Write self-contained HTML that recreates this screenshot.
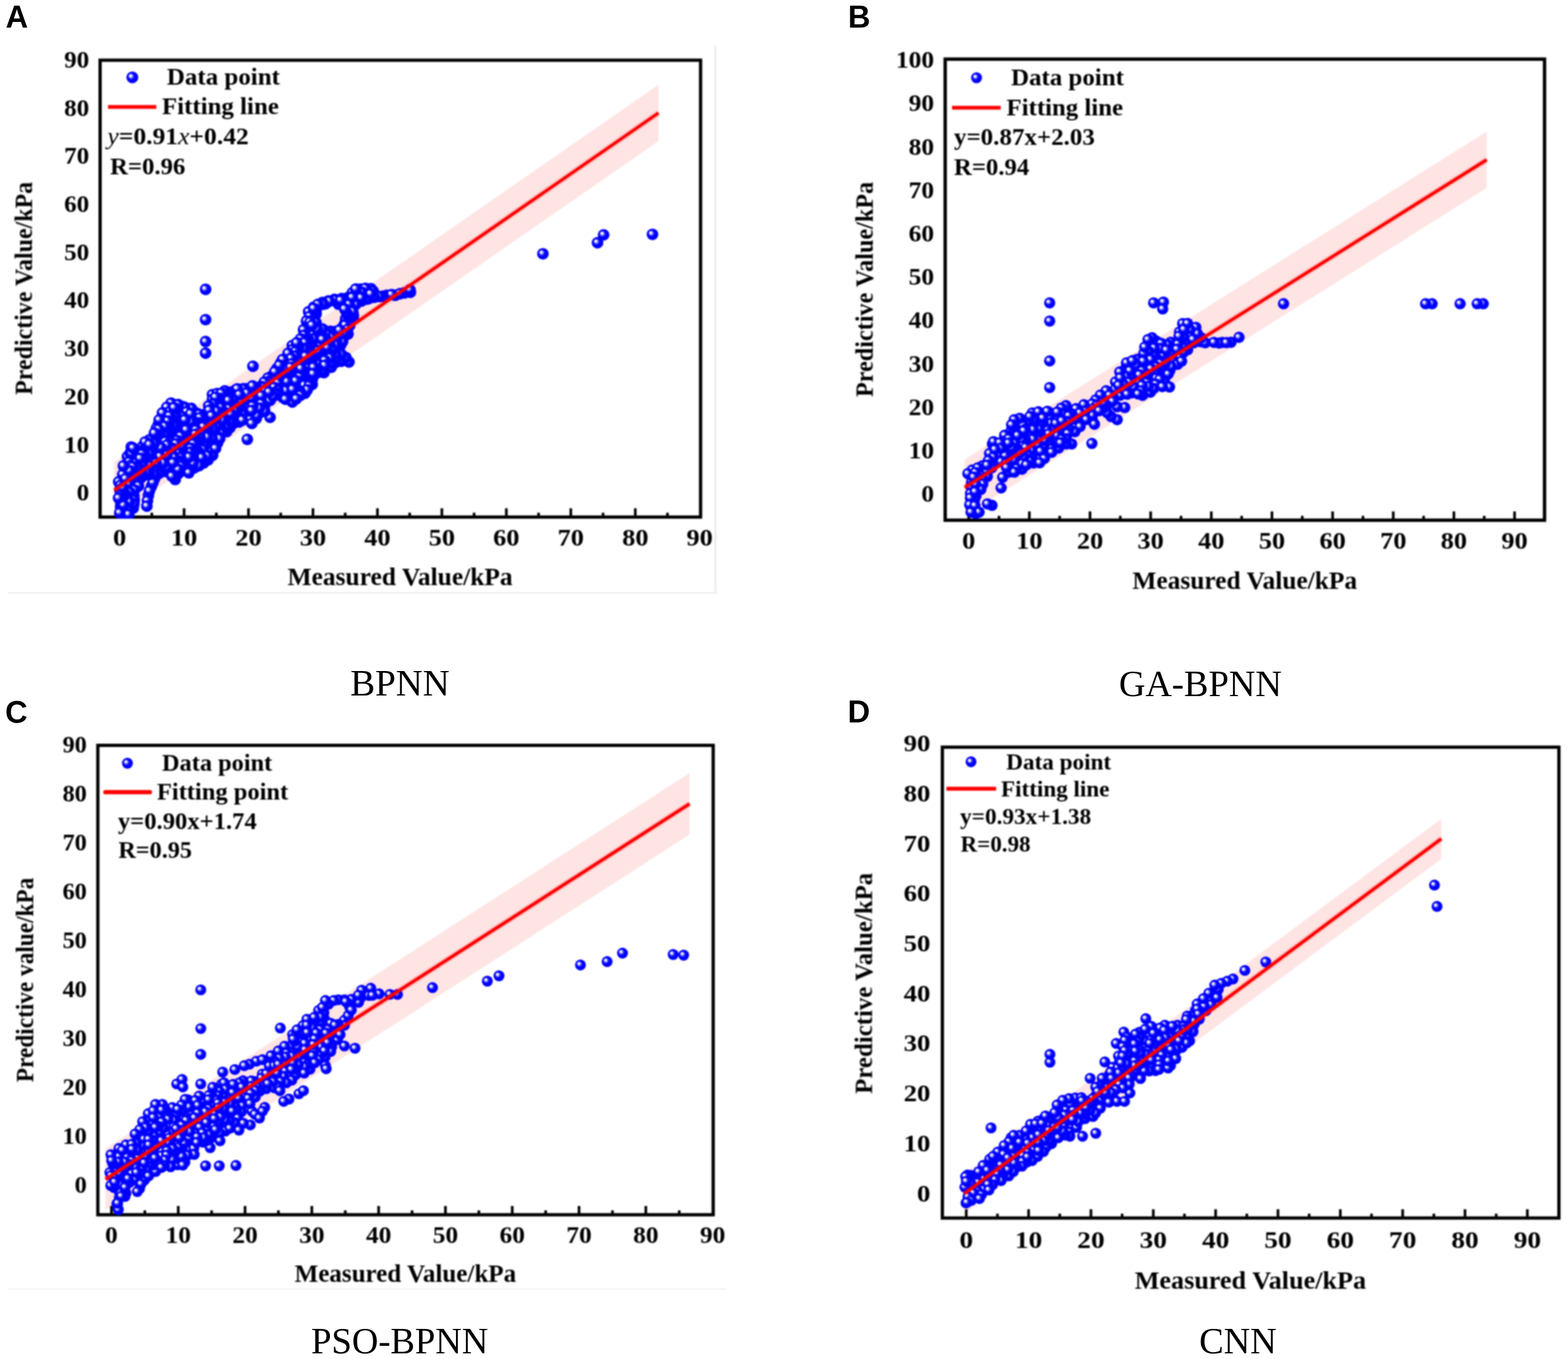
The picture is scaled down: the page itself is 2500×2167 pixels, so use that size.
<!DOCTYPE html>
<html lang="en"><head><meta charset="utf-8"><title>Measured vs predictive value: BPNN, GA-BPNN, PSO-BPNN, CNN</title>
<style>
html,body{margin:0;padding:0;background:#fff;}
body{width:2500px;height:2167px;overflow:hidden;}
svg{display:block;}
</style></head><body>
<svg width="2500" height="2167" viewBox="0 0 2500 2167">
<defs>
<radialGradient id="pt" cx="0.5" cy="0.5" r="0.5" fx="0.31" fy="0.33">
<stop offset="0" stop-color="#ffffff"/><stop offset="0.18" stop-color="#f2f2ff"/><stop offset="0.42" stop-color="#3a3aff"/><stop offset="0.55" stop-color="#0000ff"/><stop offset="1" stop-color="#0000ff"/>
</radialGradient>
<circle id="p" r="9" fill="url(#pt)"/>
<filter id="soft" x="-2%" y="-2%" width="104%" height="104%" color-interpolation-filters="sRGB"><feGaussianBlur stdDeviation="1.0"/></filter>
</defs>
<rect width="2500" height="2167" fill="#fff"/>
<g id="panel-A"><line x1="13" y1="945.3" x2="1142.8" y2="945.3" stroke="#f1f1f1" stroke-width="3"/><line x1="1140.8" y1="73" x2="1140.8" y2="946.8" stroke="#f0f0f0" stroke-width="4"/><clipPath id="clipA"><rect x="157.0" y="93.4" width="962.6" height="733.7"/></clipPath><g filter="url(#soft)"><g clip-path="url(#clipA)"><polygon points="182,737 1050,135 1050,225 182,827" fill="#ffe4e4"/></g><rect x="159.6" y="96" width="957.4" height="728.5" fill="none" stroke="#000" stroke-width="5.2"/><path d="M190.7 824.5V810.5M293.5 824.5V810.5M396.2 824.5V810.5M499.0 824.5V810.5M601.8 824.5V810.5M704.5 824.5V810.5M807.3 824.5V810.5M910.1 824.5V810.5M1012.9 824.5V810.5M242.1 824.5V817.5M344.9 824.5V817.5M447.6 824.5V817.5M550.4 824.5V817.5M653.2 824.5V817.5M755.9 824.5V817.5M858.7 824.5V817.5M961.5 824.5V817.5M1064.2 824.5V817.5" stroke="#000" stroke-width="4.2" fill="none"/><g clip-path="url(#clipA)"><circle cx="1040.3" cy="373.7" r="9.3" fill="url(#pt)"/><circle cx="962.4" cy="374.5" r="9.3" fill="url(#pt)"/><circle cx="952.7" cy="387.0" r="9.3" fill="url(#pt)"/><circle cx="865.6" cy="404.7" r="9.3" fill="url(#pt)"/><circle cx="654.4" cy="466.0" r="9.3" fill="url(#pt)"/><circle cx="645.1" cy="466.9" r="9.3" fill="url(#pt)"/><circle cx="653.6" cy="462.1" r="9.3" fill="url(#pt)"/><circle cx="630.1" cy="470.8" r="9.3" fill="url(#pt)"/><circle cx="637.7" cy="468.4" r="9.3" fill="url(#pt)"/><circle cx="616.7" cy="470.7" r="9.3" fill="url(#pt)"/><circle cx="591.4" cy="460.2" r="9.3" fill="url(#pt)"/><circle cx="624.4" cy="469.8" r="9.3" fill="url(#pt)"/><circle cx="610.4" cy="472.4" r="9.3" fill="url(#pt)"/><circle cx="595.0" cy="464.4" r="9.3" fill="url(#pt)"/><circle cx="588.3" cy="475.9" r="9.3" fill="url(#pt)"/><circle cx="584.6" cy="476.9" r="9.3" fill="url(#pt)"/><circle cx="583.7" cy="467.4" r="9.3" fill="url(#pt)"/><circle cx="604.9" cy="472.8" r="9.3" fill="url(#pt)"/><circle cx="574.6" cy="461.0" r="9.3" fill="url(#pt)"/><circle cx="596.5" cy="473.9" r="9.3" fill="url(#pt)"/><circle cx="582.6" cy="459.8" r="9.3" fill="url(#pt)"/><circle cx="576.3" cy="465.7" r="9.3" fill="url(#pt)"/><circle cx="561.7" cy="466.9" r="9.3" fill="url(#pt)"/><circle cx="591.0" cy="468.5" r="9.3" fill="url(#pt)"/><circle cx="568.4" cy="468.5" r="9.3" fill="url(#pt)"/><circle cx="554.6" cy="474.5" r="9.3" fill="url(#pt)"/><circle cx="567.3" cy="460.8" r="9.3" fill="url(#pt)"/><circle cx="569.0" cy="476.2" r="9.3" fill="url(#pt)"/><circle cx="576.5" cy="479.9" r="9.3" fill="url(#pt)"/><circle cx="561.4" cy="487.1" r="9.3" fill="url(#pt)"/><circle cx="559.3" cy="473.7" r="9.3" fill="url(#pt)"/><circle cx="560.6" cy="482.8" r="9.3" fill="url(#pt)"/><circle cx="555.8" cy="481.6" r="9.3" fill="url(#pt)"/><circle cx="550.2" cy="477.8" r="9.3" fill="url(#pt)"/><circle cx="567.3" cy="485.2" r="9.3" fill="url(#pt)"/><circle cx="575.8" cy="474.9" r="9.3" fill="url(#pt)"/><circle cx="552.7" cy="498.0" r="9.3" fill="url(#pt)"/><circle cx="563.3" cy="509.1" r="9.3" fill="url(#pt)"/><circle cx="533.4" cy="477.3" r="9.3" fill="url(#pt)"/><circle cx="547.3" cy="483.1" r="9.3" fill="url(#pt)"/><circle cx="561.6" cy="474.1" r="9.3" fill="url(#pt)"/><circle cx="544.8" cy="476.1" r="9.3" fill="url(#pt)"/><circle cx="563.5" cy="502.9" r="9.3" fill="url(#pt)"/><circle cx="549.1" cy="516.8" r="9.3" fill="url(#pt)"/><circle cx="539.4" cy="484.8" r="9.3" fill="url(#pt)"/><circle cx="554.9" cy="532.6" r="9.3" fill="url(#pt)"/><circle cx="557.5" cy="487.9" r="9.3" fill="url(#pt)"/><circle cx="556.4" cy="485.3" r="9.3" fill="url(#pt)"/><circle cx="562.5" cy="496.8" r="9.3" fill="url(#pt)"/><circle cx="554.7" cy="511.2" r="9.3" fill="url(#pt)"/><circle cx="534.2" cy="478.4" r="9.3" fill="url(#pt)"/><circle cx="551.1" cy="508.3" r="9.3" fill="url(#pt)"/><circle cx="554.2" cy="502.6" r="9.3" fill="url(#pt)"/><circle cx="545.5" cy="522.8" r="9.3" fill="url(#pt)"/><circle cx="552.8" cy="499.1" r="9.3" fill="url(#pt)"/><circle cx="543.3" cy="478.9" r="9.3" fill="url(#pt)"/><circle cx="549.5" cy="492.6" r="9.3" fill="url(#pt)"/><circle cx="537.0" cy="528.1" r="9.3" fill="url(#pt)"/><circle cx="546.9" cy="538.9" r="9.3" fill="url(#pt)"/><circle cx="519.3" cy="484.1" r="9.3" fill="url(#pt)"/><circle cx="523.7" cy="479.7" r="9.3" fill="url(#pt)"/><circle cx="532.5" cy="529.7" r="9.3" fill="url(#pt)"/><circle cx="549.1" cy="525.1" r="9.3" fill="url(#pt)"/><circle cx="543.2" cy="549.9" r="9.3" fill="url(#pt)"/><circle cx="529.8" cy="528.9" r="9.3" fill="url(#pt)"/><circle cx="525.2" cy="480.4" r="9.3" fill="url(#pt)"/><circle cx="557.6" cy="518.9" r="9.3" fill="url(#pt)"/><circle cx="514.1" cy="482.4" r="9.3" fill="url(#pt)"/><circle cx="504.0" cy="495.1" r="9.3" fill="url(#pt)"/><circle cx="541.8" cy="543.5" r="9.3" fill="url(#pt)"/><circle cx="504.1" cy="500.7" r="9.3" fill="url(#pt)"/><circle cx="550.3" cy="518.6" r="9.3" fill="url(#pt)"/><circle cx="556.4" cy="577.2" r="9.3" fill="url(#pt)"/><circle cx="500.7" cy="500.1" r="9.3" fill="url(#pt)"/><circle cx="546.2" cy="544.7" r="9.3" fill="url(#pt)"/><circle cx="526.4" cy="528.3" r="9.3" fill="url(#pt)"/><circle cx="554.2" cy="525.5" r="9.3" fill="url(#pt)"/><circle cx="507.0" cy="486.1" r="9.3" fill="url(#pt)"/><circle cx="515.1" cy="485.2" r="9.3" fill="url(#pt)"/><circle cx="519.6" cy="529.3" r="9.3" fill="url(#pt)"/><circle cx="526.2" cy="545.1" r="9.3" fill="url(#pt)"/><circle cx="542.8" cy="530.1" r="9.3" fill="url(#pt)"/><circle cx="544.3" cy="576.0" r="9.3" fill="url(#pt)"/><circle cx="513.0" cy="526.6" r="9.3" fill="url(#pt)"/><circle cx="494.7" cy="497.9" r="9.3" fill="url(#pt)"/><circle cx="534.0" cy="557.1" r="9.3" fill="url(#pt)"/><circle cx="548.9" cy="531.2" r="9.3" fill="url(#pt)"/><circle cx="538.7" cy="535.0" r="9.3" fill="url(#pt)"/><circle cx="492.1" cy="497.1" r="9.3" fill="url(#pt)"/><circle cx="542.6" cy="565.0" r="9.3" fill="url(#pt)"/><circle cx="532.1" cy="535.3" r="9.3" fill="url(#pt)"/><circle cx="506.8" cy="529.1" r="9.3" fill="url(#pt)"/><circle cx="532.6" cy="571.1" r="9.3" fill="url(#pt)"/><circle cx="536.5" cy="543.6" r="9.3" fill="url(#pt)"/><circle cx="500.3" cy="489.7" r="9.3" fill="url(#pt)"/><circle cx="517.7" cy="527.3" r="9.3" fill="url(#pt)"/><circle cx="541.4" cy="526.4" r="9.3" fill="url(#pt)"/><circle cx="522.2" cy="533.1" r="9.3" fill="url(#pt)"/><circle cx="497.3" cy="518.9" r="9.3" fill="url(#pt)"/><circle cx="494.6" cy="505.6" r="9.3" fill="url(#pt)"/><circle cx="498.2" cy="505.6" r="9.3" fill="url(#pt)"/><circle cx="493.5" cy="504.7" r="9.3" fill="url(#pt)"/><circle cx="497.1" cy="527.1" r="9.3" fill="url(#pt)"/><circle cx="506.8" cy="485.3" r="9.3" fill="url(#pt)"/><circle cx="507.0" cy="536.4" r="9.3" fill="url(#pt)"/><circle cx="540.6" cy="554.9" r="9.3" fill="url(#pt)"/><circle cx="535.5" cy="549.9" r="9.3" fill="url(#pt)"/><circle cx="528.5" cy="538.3" r="9.3" fill="url(#pt)"/><circle cx="551.5" cy="570.0" r="9.3" fill="url(#pt)"/><circle cx="526.4" cy="551.2" r="9.3" fill="url(#pt)"/><circle cx="513.3" cy="549.4" r="9.3" fill="url(#pt)"/><circle cx="519.5" cy="539.8" r="9.3" fill="url(#pt)"/><circle cx="499.1" cy="526.4" r="9.3" fill="url(#pt)"/><circle cx="491.0" cy="518.9" r="9.3" fill="url(#pt)"/><circle cx="506.8" cy="524.0" r="9.3" fill="url(#pt)"/><circle cx="511.1" cy="533.5" r="9.3" fill="url(#pt)"/><circle cx="544.3" cy="565.1" r="9.3" fill="url(#pt)"/><circle cx="535.5" cy="565.1" r="9.3" fill="url(#pt)"/><circle cx="498.3" cy="511.2" r="9.3" fill="url(#pt)"/><circle cx="529.6" cy="558.6" r="9.3" fill="url(#pt)"/><circle cx="522.0" cy="546.5" r="9.3" fill="url(#pt)"/><circle cx="503.8" cy="514.3" r="9.3" fill="url(#pt)"/><circle cx="493.8" cy="531.4" r="9.3" fill="url(#pt)"/><circle cx="491.8" cy="526.7" r="9.3" fill="url(#pt)"/><circle cx="506.2" cy="543.7" r="9.3" fill="url(#pt)"/><circle cx="514.2" cy="555.7" r="9.3" fill="url(#pt)"/><circle cx="519.7" cy="562.4" r="9.3" fill="url(#pt)"/><circle cx="500.1" cy="491.7" r="9.3" fill="url(#pt)"/><circle cx="501.0" cy="555.0" r="9.3" fill="url(#pt)"/><circle cx="508.4" cy="551.0" r="9.3" fill="url(#pt)"/><circle cx="500.1" cy="534.3" r="9.3" fill="url(#pt)"/><circle cx="514.1" cy="524.5" r="9.3" fill="url(#pt)"/><circle cx="497.6" cy="548.5" r="9.3" fill="url(#pt)"/><circle cx="491.7" cy="544.8" r="9.3" fill="url(#pt)"/><circle cx="483.9" cy="525.9" r="9.3" fill="url(#pt)"/><circle cx="519.7" cy="568.1" r="9.3" fill="url(#pt)"/><circle cx="524.9" cy="564.2" r="9.3" fill="url(#pt)"/><circle cx="534.3" cy="578.5" r="9.3" fill="url(#pt)"/><circle cx="507.8" cy="566.4" r="9.3" fill="url(#pt)"/><circle cx="488.7" cy="511.9" r="9.3" fill="url(#pt)"/><circle cx="505.6" cy="524.7" r="9.3" fill="url(#pt)"/><circle cx="494.3" cy="513.7" r="9.3" fill="url(#pt)"/><circle cx="517.6" cy="587.9" r="9.3" fill="url(#pt)"/><circle cx="485.0" cy="534.7" r="9.3" fill="url(#pt)"/><circle cx="528.1" cy="585.6" r="9.3" fill="url(#pt)"/><circle cx="521.5" cy="554.0" r="9.3" fill="url(#pt)"/><circle cx="497.6" cy="518.5" r="9.3" fill="url(#pt)"/><circle cx="500.0" cy="540.1" r="9.3" fill="url(#pt)"/><circle cx="491.0" cy="540.2" r="9.3" fill="url(#pt)"/><circle cx="513.9" cy="541.2" r="9.3" fill="url(#pt)"/><circle cx="508.0" cy="572.8" r="9.3" fill="url(#pt)"/><circle cx="534.6" cy="576.0" r="9.3" fill="url(#pt)"/><circle cx="514.0" cy="567.6" r="9.3" fill="url(#pt)"/><circle cx="528.7" cy="578.1" r="9.3" fill="url(#pt)"/><circle cx="486.9" cy="541.9" r="9.3" fill="url(#pt)"/><circle cx="510.8" cy="561.2" r="9.3" fill="url(#pt)"/><circle cx="496.6" cy="560.5" r="9.3" fill="url(#pt)"/><circle cx="526.5" cy="570.6" r="9.3" fill="url(#pt)"/><circle cx="515.2" cy="574.6" r="9.3" fill="url(#pt)"/><circle cx="479.2" cy="540.4" r="9.3" fill="url(#pt)"/><circle cx="490.6" cy="553.4" r="9.3" fill="url(#pt)"/><circle cx="516.5" cy="594.2" r="9.3" fill="url(#pt)"/><circle cx="480.5" cy="548.3" r="9.3" fill="url(#pt)"/><circle cx="515.0" cy="581.9" r="9.3" fill="url(#pt)"/><circle cx="517.9" cy="574.6" r="9.3" fill="url(#pt)"/><circle cx="507.0" cy="580.8" r="9.3" fill="url(#pt)"/><circle cx="491.0" cy="581.5" r="9.3" fill="url(#pt)"/><circle cx="507.6" cy="559.4" r="9.3" fill="url(#pt)"/><circle cx="486.0" cy="546.3" r="9.3" fill="url(#pt)"/><circle cx="506.3" cy="594.5" r="9.3" fill="url(#pt)"/><circle cx="514.8" cy="590.7" r="9.3" fill="url(#pt)"/><circle cx="480.5" cy="560.3" r="9.3" fill="url(#pt)"/><circle cx="492.6" cy="561.9" r="9.3" fill="url(#pt)"/><circle cx="517.8" cy="582.6" r="9.3" fill="url(#pt)"/><circle cx="497.0" cy="575.6" r="9.3" fill="url(#pt)"/><circle cx="491.5" cy="594.3" r="9.3" fill="url(#pt)"/><circle cx="498.1" cy="570.0" r="9.3" fill="url(#pt)"/><circle cx="477.6" cy="583.1" r="9.3" fill="url(#pt)"/><circle cx="484.1" cy="562.4" r="9.3" fill="url(#pt)"/><circle cx="492.3" cy="567.3" r="9.3" fill="url(#pt)"/><circle cx="466.1" cy="551.0" r="9.3" fill="url(#pt)"/><circle cx="472.9" cy="552.2" r="9.3" fill="url(#pt)"/><circle cx="486.9" cy="575.2" r="9.3" fill="url(#pt)"/><circle cx="498.3" cy="591.3" r="9.3" fill="url(#pt)"/><circle cx="475.8" cy="567.3" r="9.3" fill="url(#pt)"/><circle cx="478.0" cy="577.1" r="9.3" fill="url(#pt)"/><circle cx="491.3" cy="601.7" r="9.3" fill="url(#pt)"/><circle cx="478.4" cy="603.3" r="9.3" fill="url(#pt)"/><circle cx="484.6" cy="585.6" r="9.3" fill="url(#pt)"/><circle cx="506.3" cy="587.8" r="9.3" fill="url(#pt)"/><circle cx="484.6" cy="555.8" r="9.3" fill="url(#pt)"/><circle cx="466.5" cy="557.6" r="9.3" fill="url(#pt)"/><circle cx="491.0" cy="586.4" r="9.3" fill="url(#pt)"/><circle cx="498.3" cy="603.7" r="9.3" fill="url(#pt)"/><circle cx="490.4" cy="573.4" r="9.3" fill="url(#pt)"/><circle cx="497.9" cy="612.8" r="9.3" fill="url(#pt)"/><circle cx="476.1" cy="552.9" r="9.3" fill="url(#pt)"/><circle cx="487.1" cy="568.0" r="9.3" fill="url(#pt)"/><circle cx="500.0" cy="585.7" r="9.3" fill="url(#pt)"/><circle cx="459.6" cy="575.3" r="9.3" fill="url(#pt)"/><circle cx="473.1" cy="546.6" r="9.3" fill="url(#pt)"/><circle cx="477.4" cy="611.9" r="9.3" fill="url(#pt)"/><circle cx="499.2" cy="596.1" r="9.3" fill="url(#pt)"/><circle cx="487.6" cy="604.7" r="9.3" fill="url(#pt)"/><circle cx="480.5" cy="615.5" r="9.3" fill="url(#pt)"/><circle cx="473.6" cy="614.1" r="9.3" fill="url(#pt)"/><circle cx="464.5" cy="564.6" r="9.3" fill="url(#pt)"/><circle cx="469.9" cy="602.6" r="9.3" fill="url(#pt)"/><circle cx="464.2" cy="599.4" r="9.3" fill="url(#pt)"/><circle cx="490.5" cy="609.7" r="9.3" fill="url(#pt)"/><circle cx="484.7" cy="599.9" r="9.3" fill="url(#pt)"/><circle cx="485.3" cy="618.8" r="9.3" fill="url(#pt)"/><circle cx="470.9" cy="560.8" r="9.3" fill="url(#pt)"/><circle cx="468.7" cy="592.9" r="9.3" fill="url(#pt)"/><circle cx="470.9" cy="578.9" r="9.3" fill="url(#pt)"/><circle cx="471.0" cy="572.8" r="9.3" fill="url(#pt)"/><circle cx="485.1" cy="614.3" r="9.3" fill="url(#pt)"/><circle cx="470.5" cy="567.6" r="9.3" fill="url(#pt)"/><circle cx="483.6" cy="591.2" r="9.3" fill="url(#pt)"/><circle cx="457.1" cy="596.2" r="9.3" fill="url(#pt)"/><circle cx="459.0" cy="604.5" r="9.3" fill="url(#pt)"/><circle cx="486.4" cy="626.8" r="9.3" fill="url(#pt)"/><circle cx="464.4" cy="607.9" r="9.3" fill="url(#pt)"/><circle cx="478.7" cy="598.2" r="9.3" fill="url(#pt)"/><circle cx="470.4" cy="587.0" r="9.3" fill="url(#pt)"/><circle cx="493.1" cy="615.2" r="9.3" fill="url(#pt)"/><circle cx="489.9" cy="621.6" r="9.3" fill="url(#pt)"/><circle cx="479.8" cy="587.6" r="9.3" fill="url(#pt)"/><circle cx="478.4" cy="623.8" r="9.3" fill="url(#pt)"/><circle cx="458.3" cy="570.8" r="9.3" fill="url(#pt)"/><circle cx="455.6" cy="584.1" r="9.3" fill="url(#pt)"/><circle cx="471.2" cy="622.9" r="9.3" fill="url(#pt)"/><circle cx="459.3" cy="563.4" r="9.3" fill="url(#pt)"/><circle cx="448.0" cy="578.1" r="9.3" fill="url(#pt)"/><circle cx="464.3" cy="571.5" r="9.3" fill="url(#pt)"/><circle cx="441.5" cy="587.8" r="9.3" fill="url(#pt)"/><circle cx="444.1" cy="596.3" r="9.3" fill="url(#pt)"/><circle cx="451.9" cy="587.1" r="9.3" fill="url(#pt)"/><circle cx="465.7" cy="580.1" r="9.3" fill="url(#pt)"/><circle cx="463.2" cy="591.3" r="9.3" fill="url(#pt)"/><circle cx="458.5" cy="589.9" r="9.3" fill="url(#pt)"/><circle cx="458.9" cy="616.7" r="9.3" fill="url(#pt)"/><circle cx="449.0" cy="615.0" r="9.3" fill="url(#pt)"/><circle cx="463.7" cy="585.7" r="9.3" fill="url(#pt)"/><circle cx="448.5" cy="594.7" r="9.3" fill="url(#pt)"/><circle cx="450.8" cy="573.2" r="9.3" fill="url(#pt)"/><circle cx="463.6" cy="635.4" r="9.3" fill="url(#pt)"/><circle cx="458.1" cy="628.4" r="9.3" fill="url(#pt)"/><circle cx="462.4" cy="613.5" r="9.3" fill="url(#pt)"/><circle cx="450.6" cy="621.6" r="9.3" fill="url(#pt)"/><circle cx="447.7" cy="599.5" r="9.3" fill="url(#pt)"/><circle cx="445.5" cy="582.5" r="9.3" fill="url(#pt)"/><circle cx="472.1" cy="628.6" r="9.3" fill="url(#pt)"/><circle cx="452.1" cy="626.6" r="9.3" fill="url(#pt)"/><circle cx="471.6" cy="607.3" r="9.3" fill="url(#pt)"/><circle cx="451.9" cy="607.6" r="9.3" fill="url(#pt)"/><circle cx="457.5" cy="608.3" r="9.3" fill="url(#pt)"/><circle cx="466.1" cy="641.0" r="9.3" fill="url(#pt)"/><circle cx="479.0" cy="630.3" r="9.3" fill="url(#pt)"/><circle cx="437.5" cy="612.9" r="9.3" fill="url(#pt)"/><circle cx="464.5" cy="626.2" r="9.3" fill="url(#pt)"/><circle cx="434.3" cy="598.8" r="9.3" fill="url(#pt)"/><circle cx="427.4" cy="602.7" r="9.3" fill="url(#pt)"/><circle cx="455.6" cy="622.8" r="9.3" fill="url(#pt)"/><circle cx="436.5" cy="607.3" r="9.3" fill="url(#pt)"/><circle cx="466.6" cy="620.8" r="9.3" fill="url(#pt)"/><circle cx="472.5" cy="635.8" r="9.3" fill="url(#pt)"/><circle cx="445.2" cy="601.6" r="9.3" fill="url(#pt)"/><circle cx="440.9" cy="614.9" r="9.3" fill="url(#pt)"/><circle cx="428.3" cy="608.3" r="9.3" fill="url(#pt)"/><circle cx="451.0" cy="633.7" r="9.3" fill="url(#pt)"/><circle cx="438.2" cy="592.7" r="9.3" fill="url(#pt)"/><circle cx="421.3" cy="609.4" r="9.3" fill="url(#pt)"/><circle cx="415.9" cy="616.1" r="9.3" fill="url(#pt)"/><circle cx="442.7" cy="610.6" r="9.3" fill="url(#pt)"/><circle cx="419.8" cy="617.8" r="9.3" fill="url(#pt)"/><circle cx="455.2" cy="636.7" r="9.3" fill="url(#pt)"/><circle cx="427.0" cy="618.1" r="9.3" fill="url(#pt)"/><circle cx="421.2" cy="639.6" r="9.3" fill="url(#pt)"/><circle cx="327.8" cy="461.4" r="9.3" fill="url(#pt)"/><circle cx="417.6" cy="624.1" r="9.3" fill="url(#pt)"/><circle cx="437.4" cy="618.1" r="9.3" fill="url(#pt)"/><circle cx="443.4" cy="622.4" r="9.3" fill="url(#pt)"/><circle cx="421.1" cy="630.7" r="9.3" fill="url(#pt)"/><circle cx="409.3" cy="618.2" r="9.3" fill="url(#pt)"/><circle cx="422.9" cy="623.2" r="9.3" fill="url(#pt)"/><circle cx="406.3" cy="626.8" r="9.3" fill="url(#pt)"/><circle cx="438.3" cy="625.9" r="9.3" fill="url(#pt)"/><circle cx="415.3" cy="638.9" r="9.3" fill="url(#pt)"/><circle cx="441.2" cy="629.7" r="9.3" fill="url(#pt)"/><circle cx="431.3" cy="632.4" r="9.3" fill="url(#pt)"/><circle cx="422.1" cy="646.0" r="9.3" fill="url(#pt)"/><circle cx="430.7" cy="638.5" r="9.3" fill="url(#pt)"/><circle cx="435.6" cy="632.0" r="9.3" fill="url(#pt)"/><circle cx="429.0" cy="625.0" r="9.3" fill="url(#pt)"/><circle cx="403.3" cy="584.0" r="9.3" fill="url(#pt)"/><circle cx="409.7" cy="634.1" r="9.3" fill="url(#pt)"/><circle cx="400.5" cy="624.2" r="9.3" fill="url(#pt)"/><circle cx="430.6" cy="665.5" r="9.3" fill="url(#pt)"/><circle cx="398.8" cy="629.2" r="9.3" fill="url(#pt)"/><circle cx="415.2" cy="657.6" r="9.3" fill="url(#pt)"/><circle cx="392.6" cy="619.7" r="9.3" fill="url(#pt)"/><circle cx="422.1" cy="655.8" r="9.3" fill="url(#pt)"/><circle cx="400.6" cy="643.5" r="9.3" fill="url(#pt)"/><circle cx="407.1" cy="639.5" r="9.3" fill="url(#pt)"/><circle cx="416.8" cy="631.1" r="9.3" fill="url(#pt)"/><circle cx="387.9" cy="619.9" r="9.3" fill="url(#pt)"/><circle cx="327.8" cy="509.7" r="9.3" fill="url(#pt)"/><circle cx="402.7" cy="615.4" r="9.3" fill="url(#pt)"/><circle cx="387.8" cy="629.1" r="9.3" fill="url(#pt)"/><circle cx="402.6" cy="661.3" r="9.3" fill="url(#pt)"/><circle cx="375.6" cy="621.9" r="9.3" fill="url(#pt)"/><circle cx="392.4" cy="656.3" r="9.3" fill="url(#pt)"/><circle cx="407.3" cy="653.4" r="9.3" fill="url(#pt)"/><circle cx="395.2" cy="641.4" r="9.3" fill="url(#pt)"/><circle cx="381.8" cy="640.6" r="9.3" fill="url(#pt)"/><circle cx="395.2" cy="634.2" r="9.3" fill="url(#pt)"/><circle cx="387.8" cy="633.3" r="9.3" fill="url(#pt)"/><circle cx="393.7" cy="626.8" r="9.3" fill="url(#pt)"/><circle cx="377.8" cy="633.2" r="9.3" fill="url(#pt)"/><circle cx="406.8" cy="647.1" r="9.3" fill="url(#pt)"/><circle cx="327.8" cy="544.6" r="9.3" fill="url(#pt)"/><circle cx="416.8" cy="643.5" r="9.3" fill="url(#pt)"/><circle cx="395.9" cy="663.2" r="9.3" fill="url(#pt)"/><circle cx="413.4" cy="650.8" r="9.3" fill="url(#pt)"/><circle cx="387.6" cy="648.0" r="9.3" fill="url(#pt)"/><circle cx="392.9" cy="649.4" r="9.3" fill="url(#pt)"/><circle cx="387.6" cy="656.0" r="9.3" fill="url(#pt)"/><circle cx="400.8" cy="634.4" r="9.3" fill="url(#pt)"/><circle cx="403.0" cy="647.5" r="9.3" fill="url(#pt)"/><circle cx="387.2" cy="661.2" r="9.3" fill="url(#pt)"/><circle cx="373.5" cy="644.5" r="9.3" fill="url(#pt)"/><circle cx="408.5" cy="667.4" r="9.3" fill="url(#pt)"/><circle cx="380.8" cy="665.7" r="9.3" fill="url(#pt)"/><circle cx="409.5" cy="662.9" r="9.3" fill="url(#pt)"/><circle cx="381.1" cy="672.8" r="9.3" fill="url(#pt)"/><circle cx="378.3" cy="620.0" r="9.3" fill="url(#pt)"/><circle cx="384.9" cy="643.2" r="9.3" fill="url(#pt)"/><circle cx="375.2" cy="660.9" r="9.3" fill="url(#pt)"/><circle cx="374.6" cy="630.9" r="9.3" fill="url(#pt)"/><circle cx="401.2" cy="654.6" r="9.3" fill="url(#pt)"/><circle cx="394.3" cy="700.6" r="9.3" fill="url(#pt)"/><circle cx="327.8" cy="563.0" r="9.3" fill="url(#pt)"/><circle cx="378.1" cy="655.4" r="9.3" fill="url(#pt)"/><circle cx="365.3" cy="625.2" r="9.3" fill="url(#pt)"/><circle cx="372.2" cy="635.7" r="9.3" fill="url(#pt)"/><circle cx="381.8" cy="629.2" r="9.3" fill="url(#pt)"/><circle cx="371.3" cy="670.2" r="9.3" fill="url(#pt)"/><circle cx="352.7" cy="640.2" r="9.3" fill="url(#pt)"/><circle cx="379.0" cy="648.3" r="9.3" fill="url(#pt)"/><circle cx="357.8" cy="630.9" r="9.3" fill="url(#pt)"/><circle cx="391.9" cy="668.1" r="9.3" fill="url(#pt)"/><circle cx="364.2" cy="632.4" r="9.3" fill="url(#pt)"/><circle cx="358.4" cy="623.3" r="9.3" fill="url(#pt)"/><circle cx="398.8" cy="669.5" r="9.3" fill="url(#pt)"/><circle cx="370.9" cy="676.0" r="9.3" fill="url(#pt)"/><circle cx="401.6" cy="675.2" r="9.3" fill="url(#pt)"/><circle cx="347.1" cy="640.9" r="9.3" fill="url(#pt)"/><circle cx="359.1" cy="650.2" r="9.3" fill="url(#pt)"/><circle cx="366.5" cy="665.8" r="9.3" fill="url(#pt)"/><circle cx="338.8" cy="629.2" r="9.3" fill="url(#pt)"/><circle cx="357.7" cy="671.7" r="9.3" fill="url(#pt)"/><circle cx="360.2" cy="636.5" r="9.3" fill="url(#pt)"/><circle cx="346.1" cy="627.6" r="9.3" fill="url(#pt)"/><circle cx="366.1" cy="645.3" r="9.3" fill="url(#pt)"/><circle cx="386.4" cy="669.9" r="9.3" fill="url(#pt)"/><circle cx="353.5" cy="654.2" r="9.3" fill="url(#pt)"/><circle cx="367.2" cy="673.3" r="9.3" fill="url(#pt)"/><circle cx="366.6" cy="681.9" r="9.3" fill="url(#pt)"/><circle cx="359.6" cy="667.9" r="9.3" fill="url(#pt)"/><circle cx="357.2" cy="644.1" r="9.3" fill="url(#pt)"/><circle cx="353.2" cy="627.1" r="9.3" fill="url(#pt)"/><circle cx="364.1" cy="638.3" r="9.3" fill="url(#pt)"/><circle cx="354.2" cy="678.2" r="9.3" fill="url(#pt)"/><circle cx="372.6" cy="651.0" r="9.3" fill="url(#pt)"/><circle cx="361.4" cy="688.3" r="9.3" fill="url(#pt)"/><circle cx="343.0" cy="650.3" r="9.3" fill="url(#pt)"/><circle cx="364.5" cy="651.7" r="9.3" fill="url(#pt)"/><circle cx="374.4" cy="654.8" r="9.3" fill="url(#pt)"/><circle cx="357.6" cy="657.3" r="9.3" fill="url(#pt)"/><circle cx="360.1" cy="682.1" r="9.3" fill="url(#pt)"/><circle cx="352.8" cy="661.4" r="9.3" fill="url(#pt)"/><circle cx="339.7" cy="657.4" r="9.3" fill="url(#pt)"/><circle cx="351.8" cy="649.3" r="9.3" fill="url(#pt)"/><circle cx="349.8" cy="635.3" r="9.3" fill="url(#pt)"/><circle cx="367.7" cy="659.7" r="9.3" fill="url(#pt)"/><circle cx="332.3" cy="670.6" r="9.3" fill="url(#pt)"/><circle cx="338.8" cy="636.8" r="9.3" fill="url(#pt)"/><circle cx="343.7" cy="633.4" r="9.3" fill="url(#pt)"/><circle cx="352.7" cy="683.6" r="9.3" fill="url(#pt)"/><circle cx="354.5" cy="669.8" r="9.3" fill="url(#pt)"/><circle cx="338.3" cy="676.3" r="9.3" fill="url(#pt)"/><circle cx="339.9" cy="651.1" r="9.3" fill="url(#pt)"/><circle cx="332.8" cy="661.1" r="9.3" fill="url(#pt)"/><circle cx="344.0" cy="685.6" r="9.3" fill="url(#pt)"/><circle cx="345.2" cy="664.4" r="9.3" fill="url(#pt)"/><circle cx="325.4" cy="661.0" r="9.3" fill="url(#pt)"/><circle cx="347.0" cy="706.1" r="9.3" fill="url(#pt)"/><circle cx="343.5" cy="671.3" r="9.3" fill="url(#pt)"/><circle cx="352.3" cy="690.3" r="9.3" fill="url(#pt)"/><circle cx="340.3" cy="644.3" r="9.3" fill="url(#pt)"/><circle cx="343.5" cy="700.7" r="9.3" fill="url(#pt)"/><circle cx="312.4" cy="658.2" r="9.3" fill="url(#pt)"/><circle cx="332.8" cy="647.2" r="9.3" fill="url(#pt)"/><circle cx="345.2" cy="655.7" r="9.3" fill="url(#pt)"/><circle cx="346.2" cy="679.2" r="9.3" fill="url(#pt)"/><circle cx="343.8" cy="692.6" r="9.3" fill="url(#pt)"/><circle cx="330.1" cy="674.5" r="9.3" fill="url(#pt)"/><circle cx="333.6" cy="654.1" r="9.3" fill="url(#pt)"/><circle cx="339.2" cy="672.3" r="9.3" fill="url(#pt)"/><circle cx="305.0" cy="651.1" r="9.3" fill="url(#pt)"/><circle cx="322.3" cy="667.1" r="9.3" fill="url(#pt)"/><circle cx="338.0" cy="689.7" r="9.3" fill="url(#pt)"/><circle cx="317.8" cy="660.9" r="9.3" fill="url(#pt)"/><circle cx="337.4" cy="662.9" r="9.3" fill="url(#pt)"/><circle cx="338.9" cy="710.3" r="9.3" fill="url(#pt)"/><circle cx="331.5" cy="712.5" r="9.3" fill="url(#pt)"/><circle cx="337.7" cy="704.7" r="9.3" fill="url(#pt)"/><circle cx="330.6" cy="705.8" r="9.3" fill="url(#pt)"/><circle cx="339.8" cy="684.5" r="9.3" fill="url(#pt)"/><circle cx="331.7" cy="683.1" r="9.3" fill="url(#pt)"/><circle cx="291.2" cy="648.2" r="9.3" fill="url(#pt)"/><circle cx="295.6" cy="664.6" r="9.3" fill="url(#pt)"/><circle cx="333.1" cy="719.7" r="9.3" fill="url(#pt)"/><circle cx="350.3" cy="699.5" r="9.3" fill="url(#pt)"/><circle cx="338.2" cy="699.4" r="9.3" fill="url(#pt)"/><circle cx="294.2" cy="649.4" r="9.3" fill="url(#pt)"/><circle cx="311.5" cy="667.1" r="9.3" fill="url(#pt)"/><circle cx="324.5" cy="673.4" r="9.3" fill="url(#pt)"/><circle cx="302.5" cy="666.2" r="9.3" fill="url(#pt)"/><circle cx="338.2" cy="720.9" r="9.3" fill="url(#pt)"/><circle cx="288.2" cy="657.6" r="9.3" fill="url(#pt)"/><circle cx="323.1" cy="701.9" r="9.3" fill="url(#pt)"/><circle cx="316.0" cy="681.3" r="9.3" fill="url(#pt)"/><circle cx="330.4" cy="688.1" r="9.3" fill="url(#pt)"/><circle cx="296.3" cy="678.4" r="9.3" fill="url(#pt)"/><circle cx="318.8" cy="666.2" r="9.3" fill="url(#pt)"/><circle cx="301.5" cy="692.2" r="9.3" fill="url(#pt)"/><circle cx="324.3" cy="686.2" r="9.3" fill="url(#pt)"/><circle cx="316.0" cy="674.3" r="9.3" fill="url(#pt)"/><circle cx="290.8" cy="670.7" r="9.3" fill="url(#pt)"/><circle cx="339.1" cy="725.8" r="9.3" fill="url(#pt)"/><circle cx="325.5" cy="710.1" r="9.3" fill="url(#pt)"/><circle cx="323.8" cy="695.1" r="9.3" fill="url(#pt)"/><circle cx="297.8" cy="656.6" r="9.3" fill="url(#pt)"/><circle cx="282.5" cy="659.7" r="9.3" fill="url(#pt)"/><circle cx="324.6" cy="738.3" r="9.3" fill="url(#pt)"/><circle cx="317.1" cy="709.3" r="9.3" fill="url(#pt)"/><circle cx="304.1" cy="659.8" r="9.3" fill="url(#pt)"/><circle cx="301.7" cy="700.4" r="9.3" fill="url(#pt)"/><circle cx="272.8" cy="642.7" r="9.3" fill="url(#pt)"/><circle cx="315.9" cy="688.4" r="9.3" fill="url(#pt)"/><circle cx="297.1" cy="693.5" r="9.3" fill="url(#pt)"/><circle cx="304.9" cy="680.9" r="9.3" fill="url(#pt)"/><circle cx="310.9" cy="673.3" r="9.3" fill="url(#pt)"/><circle cx="324.1" cy="680.6" r="9.3" fill="url(#pt)"/><circle cx="330.6" cy="696.9" r="9.3" fill="url(#pt)"/><circle cx="318.5" cy="714.9" r="9.3" fill="url(#pt)"/><circle cx="304.4" cy="705.3" r="9.3" fill="url(#pt)"/><circle cx="323.5" cy="722.3" r="9.3" fill="url(#pt)"/><circle cx="315.2" cy="729.4" r="9.3" fill="url(#pt)"/><circle cx="343.7" cy="714.9" r="9.3" fill="url(#pt)"/><circle cx="305.4" cy="686.5" r="9.3" fill="url(#pt)"/><circle cx="319.5" cy="701.3" r="9.3" fill="url(#pt)"/><circle cx="290.1" cy="675.3" r="9.3" fill="url(#pt)"/><circle cx="290.2" cy="691.0" r="9.3" fill="url(#pt)"/><circle cx="274.2" cy="663.5" r="9.3" fill="url(#pt)"/><circle cx="288.8" cy="682.1" r="9.3" fill="url(#pt)"/><circle cx="275.6" cy="657.8" r="9.3" fill="url(#pt)"/><circle cx="309.8" cy="680.9" r="9.3" fill="url(#pt)"/><circle cx="318.6" cy="695.6" r="9.3" fill="url(#pt)"/><circle cx="290.6" cy="664.5" r="9.3" fill="url(#pt)"/><circle cx="324.1" cy="717.0" r="9.3" fill="url(#pt)"/><circle cx="308.4" cy="698.8" r="9.3" fill="url(#pt)"/><circle cx="280.0" cy="687.5" r="9.3" fill="url(#pt)"/><circle cx="331.8" cy="733.3" r="9.3" fill="url(#pt)"/><circle cx="312.4" cy="711.5" r="9.3" fill="url(#pt)"/><circle cx="280.8" cy="664.3" r="9.3" fill="url(#pt)"/><circle cx="296.0" cy="705.8" r="9.3" fill="url(#pt)"/><circle cx="266.0" cy="649.3" r="9.3" fill="url(#pt)"/><circle cx="280.8" cy="671.4" r="9.3" fill="url(#pt)"/><circle cx="304.3" cy="672.7" r="9.3" fill="url(#pt)"/><circle cx="312.5" cy="685.5" r="9.3" fill="url(#pt)"/><circle cx="311.6" cy="692.5" r="9.3" fill="url(#pt)"/><circle cx="294.8" cy="669.3" r="9.3" fill="url(#pt)"/><circle cx="308.3" cy="707.9" r="9.3" fill="url(#pt)"/><circle cx="277.2" cy="674.3" r="9.3" fill="url(#pt)"/><circle cx="316.5" cy="720.5" r="9.3" fill="url(#pt)"/><circle cx="284.1" cy="645.1" r="9.3" fill="url(#pt)"/><circle cx="310.6" cy="719.5" r="9.3" fill="url(#pt)"/><circle cx="270.1" cy="656.8" r="9.3" fill="url(#pt)"/><circle cx="295.7" cy="714.2" r="9.3" fill="url(#pt)"/><circle cx="331.1" cy="726.8" r="9.3" fill="url(#pt)"/><circle cx="281.3" cy="652.6" r="9.3" fill="url(#pt)"/><circle cx="315.2" cy="735.9" r="9.3" fill="url(#pt)"/><circle cx="291.4" cy="705.3" r="9.3" fill="url(#pt)"/><circle cx="283.6" cy="713.0" r="9.3" fill="url(#pt)"/><circle cx="294.8" cy="699.7" r="9.3" fill="url(#pt)"/><circle cx="296.9" cy="685.2" r="9.3" fill="url(#pt)"/><circle cx="277.5" cy="694.1" r="9.3" fill="url(#pt)"/><circle cx="321.6" cy="729.6" r="9.3" fill="url(#pt)"/><circle cx="281.1" cy="695.1" r="9.3" fill="url(#pt)"/><circle cx="273.7" cy="687.3" r="9.3" fill="url(#pt)"/><circle cx="277.5" cy="650.0" r="9.3" fill="url(#pt)"/><circle cx="304.0" cy="714.9" r="9.3" fill="url(#pt)"/><circle cx="266.2" cy="692.1" r="9.3" fill="url(#pt)"/><circle cx="289.9" cy="738.0" r="9.3" fill="url(#pt)"/><circle cx="308.2" cy="725.8" r="9.3" fill="url(#pt)"/><circle cx="265.8" cy="696.3" r="9.3" fill="url(#pt)"/><circle cx="282.4" cy="678.3" r="9.3" fill="url(#pt)"/><circle cx="288.6" cy="724.0" r="9.3" fill="url(#pt)"/><circle cx="308.9" cy="734.3" r="9.3" fill="url(#pt)"/><circle cx="298.2" cy="722.8" r="9.3" fill="url(#pt)"/><circle cx="263.2" cy="665.0" r="9.3" fill="url(#pt)"/><circle cx="309.8" cy="745.9" r="9.3" fill="url(#pt)"/><circle cx="276.1" cy="701.8" r="9.3" fill="url(#pt)"/><circle cx="302.4" cy="721.1" r="9.3" fill="url(#pt)"/><circle cx="295.0" cy="728.9" r="9.3" fill="url(#pt)"/><circle cx="277.5" cy="678.0" r="9.3" fill="url(#pt)"/><circle cx="300.8" cy="736.9" r="9.3" fill="url(#pt)"/><circle cx="259.0" cy="658.4" r="9.3" fill="url(#pt)"/><circle cx="270.2" cy="663.2" r="9.3" fill="url(#pt)"/><circle cx="302.0" cy="749.7" r="9.3" fill="url(#pt)"/><circle cx="293.9" cy="733.7" r="9.3" fill="url(#pt)"/><circle cx="294.4" cy="750.2" r="9.3" fill="url(#pt)"/><circle cx="288.4" cy="751.3" r="9.3" fill="url(#pt)"/><circle cx="317.3" cy="742.6" r="9.3" fill="url(#pt)"/><circle cx="269.0" cy="682.1" r="9.3" fill="url(#pt)"/><circle cx="259.3" cy="709.4" r="9.3" fill="url(#pt)"/><circle cx="262.4" cy="673.8" r="9.3" fill="url(#pt)"/><circle cx="287.9" cy="695.4" r="9.3" fill="url(#pt)"/><circle cx="290.9" cy="717.6" r="9.3" fill="url(#pt)"/><circle cx="304.7" cy="742.4" r="9.3" fill="url(#pt)"/><circle cx="282.1" cy="702.3" r="9.3" fill="url(#pt)"/><circle cx="269.8" cy="675.0" r="9.3" fill="url(#pt)"/><circle cx="260.3" cy="686.8" r="9.3" fill="url(#pt)"/><circle cx="307.6" cy="738.9" r="9.3" fill="url(#pt)"/><circle cx="273.9" cy="708.5" r="9.3" fill="url(#pt)"/><circle cx="252.1" cy="677.8" r="9.3" fill="url(#pt)"/><circle cx="284.4" cy="720.3" r="9.3" fill="url(#pt)"/><circle cx="273.0" cy="721.9" r="9.3" fill="url(#pt)"/><circle cx="301.4" cy="728.9" r="9.3" fill="url(#pt)"/><circle cx="263.0" cy="695.3" r="9.3" fill="url(#pt)"/><circle cx="252.6" cy="704.8" r="9.3" fill="url(#pt)"/><circle cx="266.8" cy="718.7" r="9.3" fill="url(#pt)"/><circle cx="267.0" cy="671.3" r="9.3" fill="url(#pt)"/><circle cx="289.4" cy="711.1" r="9.3" fill="url(#pt)"/><circle cx="259.1" cy="714.5" r="9.3" fill="url(#pt)"/><circle cx="296.2" cy="744.0" r="9.3" fill="url(#pt)"/><circle cx="270.6" cy="703.8" r="9.3" fill="url(#pt)"/><circle cx="284.1" cy="755.4" r="9.3" fill="url(#pt)"/><circle cx="253.3" cy="718.5" r="9.3" fill="url(#pt)"/><circle cx="253.8" cy="669.5" r="9.3" fill="url(#pt)"/><circle cx="262.8" cy="680.0" r="9.3" fill="url(#pt)"/><circle cx="274.2" cy="750.8" r="9.3" fill="url(#pt)"/><circle cx="280.4" cy="707.7" r="9.3" fill="url(#pt)"/><circle cx="283.5" cy="730.4" r="9.3" fill="url(#pt)"/><circle cx="280.2" cy="742.4" r="9.3" fill="url(#pt)"/><circle cx="249.5" cy="683.1" r="9.3" fill="url(#pt)"/><circle cx="274.2" cy="714.5" r="9.3" fill="url(#pt)"/><circle cx="256.1" cy="696.5" r="9.3" fill="url(#pt)"/><circle cx="262.6" cy="732.0" r="9.3" fill="url(#pt)"/><circle cx="287.9" cy="729.6" r="9.3" fill="url(#pt)"/><circle cx="279.4" cy="764.7" r="9.3" fill="url(#pt)"/><circle cx="266.1" cy="752.0" r="9.3" fill="url(#pt)"/><circle cx="259.0" cy="725.0" r="9.3" fill="url(#pt)"/><circle cx="262.5" cy="744.5" r="9.3" fill="url(#pt)"/><circle cx="248.3" cy="702.3" r="9.3" fill="url(#pt)"/><circle cx="301.2" cy="753.8" r="9.3" fill="url(#pt)"/><circle cx="263.4" cy="703.6" r="9.3" fill="url(#pt)"/><circle cx="246.2" cy="697.7" r="9.3" fill="url(#pt)"/><circle cx="283.7" cy="734.7" r="9.3" fill="url(#pt)"/><circle cx="248.7" cy="724.8" r="9.3" fill="url(#pt)"/><circle cx="249.0" cy="714.4" r="9.3" fill="url(#pt)"/><circle cx="266.2" cy="709.6" r="9.3" fill="url(#pt)"/><circle cx="261.5" cy="751.6" r="9.3" fill="url(#pt)"/><circle cx="274.2" cy="759.4" r="9.3" fill="url(#pt)"/><circle cx="253.2" cy="692.8" r="9.3" fill="url(#pt)"/><circle cx="267.5" cy="733.2" r="9.3" fill="url(#pt)"/><circle cx="256.6" cy="713.7" r="9.3" fill="url(#pt)"/><circle cx="270.2" cy="737.3" r="9.3" fill="url(#pt)"/><circle cx="277.5" cy="729.7" r="9.3" fill="url(#pt)"/><circle cx="289.5" cy="743.4" r="9.3" fill="url(#pt)"/><circle cx="256.3" cy="733.2" r="9.3" fill="url(#pt)"/><circle cx="253.1" cy="684.3" r="9.3" fill="url(#pt)"/><circle cx="238.4" cy="701.4" r="9.3" fill="url(#pt)"/><circle cx="234.2" cy="711.7" r="9.3" fill="url(#pt)"/><circle cx="277.3" cy="743.9" r="9.3" fill="url(#pt)"/><circle cx="245.9" cy="707.5" r="9.3" fill="url(#pt)"/><circle cx="256.0" cy="741.7" r="9.3" fill="url(#pt)"/><circle cx="284.2" cy="748.4" r="9.3" fill="url(#pt)"/><circle cx="246.2" cy="690.6" r="9.3" fill="url(#pt)"/><circle cx="266.9" cy="744.8" r="9.3" fill="url(#pt)"/><circle cx="232.2" cy="718.5" r="9.3" fill="url(#pt)"/><circle cx="275.9" cy="737.7" r="9.3" fill="url(#pt)"/><circle cx="227.6" cy="711.5" r="9.3" fill="url(#pt)"/><circle cx="266.1" cy="726.1" r="9.3" fill="url(#pt)"/><circle cx="248.1" cy="743.3" r="9.3" fill="url(#pt)"/><circle cx="247.5" cy="728.4" r="9.3" fill="url(#pt)"/><circle cx="231.2" cy="740.2" r="9.3" fill="url(#pt)"/><circle cx="219.5" cy="722.8" r="9.3" fill="url(#pt)"/><circle cx="232.7" cy="730.7" r="9.3" fill="url(#pt)"/><circle cx="254.0" cy="749.9" r="9.3" fill="url(#pt)"/><circle cx="255.0" cy="728.1" r="9.3" fill="url(#pt)"/><circle cx="260.3" cy="738.3" r="9.3" fill="url(#pt)"/><circle cx="238.7" cy="736.8" r="9.3" fill="url(#pt)"/><circle cx="241.0" cy="715.2" r="9.3" fill="url(#pt)"/><circle cx="224.9" cy="719.6" r="9.3" fill="url(#pt)"/><circle cx="241.6" cy="729.2" r="9.3" fill="url(#pt)"/><circle cx="209.3" cy="712.7" r="9.3" fill="url(#pt)"/><circle cx="231.5" cy="704.7" r="9.3" fill="url(#pt)"/><circle cx="252.8" cy="755.5" r="9.3" fill="url(#pt)"/><circle cx="238.4" cy="708.9" r="9.3" fill="url(#pt)"/><circle cx="224.2" cy="748.0" r="9.3" fill="url(#pt)"/><circle cx="249.0" cy="738.4" r="9.3" fill="url(#pt)"/><circle cx="238.7" cy="724.0" r="9.3" fill="url(#pt)"/><circle cx="239.2" cy="750.8" r="9.3" fill="url(#pt)"/><circle cx="241.4" cy="775.6" r="9.3" fill="url(#pt)"/><circle cx="211.6" cy="734.3" r="9.3" fill="url(#pt)"/><circle cx="233.2" cy="744.1" r="9.3" fill="url(#pt)"/><circle cx="203.2" cy="728.1" r="9.3" fill="url(#pt)"/><circle cx="214.5" cy="729.2" r="9.3" fill="url(#pt)"/><circle cx="246.3" cy="763.5" r="9.3" fill="url(#pt)"/><circle cx="207.6" cy="722.4" r="9.3" fill="url(#pt)"/><circle cx="219.1" cy="731.2" r="9.3" fill="url(#pt)"/><circle cx="246.5" cy="749.4" r="9.3" fill="url(#pt)"/><circle cx="245.7" cy="757.2" r="9.3" fill="url(#pt)"/><circle cx="230.7" cy="724.8" r="9.3" fill="url(#pt)"/><circle cx="206.2" cy="736.6" r="9.3" fill="url(#pt)"/><circle cx="209.8" cy="722.9" r="9.3" fill="url(#pt)"/><circle cx="216.9" cy="717.6" r="9.3" fill="url(#pt)"/><circle cx="213.5" cy="749.4" r="9.3" fill="url(#pt)"/><circle cx="218.4" cy="737.8" r="9.3" fill="url(#pt)"/><circle cx="227.0" cy="723.9" r="9.3" fill="url(#pt)"/><circle cx="239.6" cy="743.5" r="9.3" fill="url(#pt)"/><circle cx="236.6" cy="790.1" r="9.3" fill="url(#pt)"/><circle cx="216.8" cy="758.9" r="9.3" fill="url(#pt)"/><circle cx="207.3" cy="742.5" r="9.3" fill="url(#pt)"/><circle cx="227.4" cy="739.2" r="9.3" fill="url(#pt)"/><circle cx="212.1" cy="714.3" r="9.3" fill="url(#pt)"/><circle cx="243.9" cy="769.5" r="9.3" fill="url(#pt)"/><circle cx="212.5" cy="769.4" r="9.3" fill="url(#pt)"/><circle cx="224.4" cy="762.2" r="9.3" fill="url(#pt)"/><circle cx="237.9" cy="756.9" r="9.3" fill="url(#pt)"/><circle cx="223.7" cy="730.9" r="9.3" fill="url(#pt)"/><circle cx="238.3" cy="782.8" r="9.3" fill="url(#pt)"/><circle cx="219.7" cy="752.6" r="9.3" fill="url(#pt)"/><circle cx="230.7" cy="757.7" r="9.3" fill="url(#pt)"/><circle cx="233.7" cy="753.3" r="9.3" fill="url(#pt)"/><circle cx="200.1" cy="747.4" r="9.3" fill="url(#pt)"/><circle cx="213.9" cy="754.9" r="9.3" fill="url(#pt)"/><circle cx="225.3" cy="753.1" r="9.3" fill="url(#pt)"/><circle cx="217.5" cy="767.5" r="9.3" fill="url(#pt)"/><circle cx="211.0" cy="776.6" r="9.3" fill="url(#pt)"/><circle cx="212.2" cy="764.6" r="9.3" fill="url(#pt)"/><circle cx="220.9" cy="774.9" r="9.3" fill="url(#pt)"/><circle cx="204.1" cy="757.3" r="9.3" fill="url(#pt)"/><circle cx="195.7" cy="756.7" r="9.3" fill="url(#pt)"/><circle cx="219.3" cy="746.1" r="9.3" fill="url(#pt)"/><circle cx="212.1" cy="744.3" r="9.3" fill="url(#pt)"/><circle cx="196.7" cy="770.8" r="9.3" fill="url(#pt)"/><circle cx="207.0" cy="765.4" r="9.3" fill="url(#pt)"/><circle cx="189.3" cy="768.3" r="9.3" fill="url(#pt)"/><circle cx="206.8" cy="750.6" r="9.3" fill="url(#pt)"/><circle cx="202.8" cy="777.1" r="9.3" fill="url(#pt)"/><circle cx="196.8" cy="742.9" r="9.3" fill="url(#pt)"/><circle cx="235.1" cy="798.6" r="9.3" fill="url(#pt)"/><circle cx="212.4" cy="810.2" r="9.3" fill="url(#pt)"/><circle cx="200.3" cy="763.3" r="9.3" fill="url(#pt)"/><circle cx="205.1" cy="771.5" r="9.3" fill="url(#pt)"/><circle cx="213.5" cy="791.2" r="9.3" fill="url(#pt)"/><circle cx="234.2" cy="807.0" r="9.3" fill="url(#pt)"/><circle cx="214.4" cy="781.2" r="9.3" fill="url(#pt)"/><circle cx="206.6" cy="784.9" r="9.3" fill="url(#pt)"/><circle cx="191.1" cy="781.7" r="9.3" fill="url(#pt)"/><circle cx="199.8" cy="815.0" r="9.3" fill="url(#pt)"/><circle cx="192.4" cy="808.3" r="9.3" fill="url(#pt)"/><circle cx="196.7" cy="800.1" r="9.3" fill="url(#pt)"/><circle cx="203.5" cy="792.5" r="9.3" fill="url(#pt)"/><circle cx="204.5" cy="806.2" r="9.3" fill="url(#pt)"/><circle cx="214.1" cy="797.7" r="9.3" fill="url(#pt)"/><circle cx="197.8" cy="785.6" r="9.3" fill="url(#pt)"/><circle cx="213.7" cy="803.6" r="9.3" fill="url(#pt)"/><circle cx="192.4" cy="773.8" r="9.3" fill="url(#pt)"/><circle cx="195.8" cy="777.3" r="9.3" fill="url(#pt)"/><circle cx="206.1" cy="800.0" r="9.3" fill="url(#pt)"/><circle cx="196.8" cy="791.9" r="9.3" fill="url(#pt)"/><circle cx="192.8" cy="802.9" r="9.3" fill="url(#pt)"/><circle cx="191.9" cy="790.1" r="9.3" fill="url(#pt)"/><circle cx="205.2" cy="814.6" r="9.3" fill="url(#pt)"/><circle cx="198.8" cy="821.4" r="9.3" fill="url(#pt)"/><circle cx="197.1" cy="805.6" r="9.3" fill="url(#pt)"/><circle cx="205.2" cy="820.3" r="9.3" fill="url(#pt)"/><circle cx="189.1" cy="794.2" r="9.3" fill="url(#pt)"/><circle cx="190.8" cy="817.8" r="9.3" fill="url(#pt)"/><line x1="182" y1="782" x2="1050" y2="180" stroke="#ff0000" stroke-opacity="0.13" stroke-width="10.1"/><line x1="182" y1="782" x2="1050" y2="180" stroke="#ff0000" stroke-width="5.1"/></g><circle cx="211" cy="123.4" r="9.5" fill="url(#pt)"/><line x1="172.2" y1="170.5" x2="249.2" y2="170.5" stroke="#ff0000" stroke-width="6" stroke-linecap="butt"/><text x="266.0" y="135.0" font-family='"Liberation Serif", "DejaVu Serif", serif' font-size="37" font-weight="bold" font-style="normal" fill="#000" textLength="180.3" lengthAdjust="spacingAndGlyphs" >Data point</text><text x="258.3" y="181.9" font-family='"Liberation Serif", "DejaVu Serif", serif' font-size="37" font-weight="bold" font-style="normal" fill="#000" textLength="186.3" lengthAdjust="spacingAndGlyphs" >Fitting line</text><text x="171.3" y="229.8" font-family='"Liberation Serif", "DejaVu Serif", serif' font-size="37" font-weight="bold" font-style="normal" fill="#000" textLength="225.4" lengthAdjust="spacingAndGlyphs" ><tspan font-style="italic" font-weight="normal">y</tspan>=0.91<tspan font-style="italic" font-weight="normal">x</tspan>+0.42</text><text x="175.4" y="278.2" font-family='"Liberation Serif", "DejaVu Serif", serif' font-size="37" font-weight="bold" font-style="normal" fill="#000" textLength="120.2" lengthAdjust="spacingAndGlyphs" >R=0.96</text><text x="122.3" y="798.4" font-family='"Liberation Serif", "DejaVu Serif", serif' font-size="37.5" font-weight="bold" font-style="normal" fill="#000" textLength="20.0" lengthAdjust="spacingAndGlyphs" >0</text><text x="102.3" y="721.7" font-family='"Liberation Serif", "DejaVu Serif", serif' font-size="37.5" font-weight="bold" font-style="normal" fill="#000" textLength="40.0" lengthAdjust="spacingAndGlyphs" >10</text><text x="102.3" y="644.9" font-family='"Liberation Serif", "DejaVu Serif", serif' font-size="37.5" font-weight="bold" font-style="normal" fill="#000" textLength="40.0" lengthAdjust="spacingAndGlyphs" >20</text><text x="102.3" y="568.2" font-family='"Liberation Serif", "DejaVu Serif", serif' font-size="37.5" font-weight="bold" font-style="normal" fill="#000" textLength="40.0" lengthAdjust="spacingAndGlyphs" >30</text><text x="102.3" y="491.4" font-family='"Liberation Serif", "DejaVu Serif", serif' font-size="37.5" font-weight="bold" font-style="normal" fill="#000" textLength="40.0" lengthAdjust="spacingAndGlyphs" >40</text><text x="102.3" y="414.7" font-family='"Liberation Serif", "DejaVu Serif", serif' font-size="37.5" font-weight="bold" font-style="normal" fill="#000" textLength="40.0" lengthAdjust="spacingAndGlyphs" >50</text><text x="102.3" y="338.0" font-family='"Liberation Serif", "DejaVu Serif", serif' font-size="37.5" font-weight="bold" font-style="normal" fill="#000" textLength="40.0" lengthAdjust="spacingAndGlyphs" >60</text><text x="102.3" y="261.2" font-family='"Liberation Serif", "DejaVu Serif", serif' font-size="37.5" font-weight="bold" font-style="normal" fill="#000" textLength="40.0" lengthAdjust="spacingAndGlyphs" >70</text><text x="102.3" y="184.5" font-family='"Liberation Serif", "DejaVu Serif", serif' font-size="37.5" font-weight="bold" font-style="normal" fill="#000" textLength="40.0" lengthAdjust="spacingAndGlyphs" >80</text><text x="102.3" y="107.7" font-family='"Liberation Serif", "DejaVu Serif", serif' font-size="37.5" font-weight="bold" font-style="normal" fill="#000" textLength="40.0" lengthAdjust="spacingAndGlyphs" >90</text><text x="180.2" y="870.0" font-family='"Liberation Serif", "DejaVu Serif", serif' font-size="37.5" font-weight="bold" font-style="normal" fill="#000" textLength="21.0" lengthAdjust="spacingAndGlyphs" >0</text><text x="272.5" y="870.0" font-family='"Liberation Serif", "DejaVu Serif", serif' font-size="37.5" font-weight="bold" font-style="normal" fill="#000" textLength="42.0" lengthAdjust="spacingAndGlyphs" >10</text><text x="375.2" y="870.0" font-family='"Liberation Serif", "DejaVu Serif", serif' font-size="37.5" font-weight="bold" font-style="normal" fill="#000" textLength="42.0" lengthAdjust="spacingAndGlyphs" >20</text><text x="478.0" y="870.0" font-family='"Liberation Serif", "DejaVu Serif", serif' font-size="37.5" font-weight="bold" font-style="normal" fill="#000" textLength="42.0" lengthAdjust="spacingAndGlyphs" >30</text><text x="580.8" y="870.0" font-family='"Liberation Serif", "DejaVu Serif", serif' font-size="37.5" font-weight="bold" font-style="normal" fill="#000" textLength="42.0" lengthAdjust="spacingAndGlyphs" >40</text><text x="683.5" y="870.0" font-family='"Liberation Serif", "DejaVu Serif", serif' font-size="37.5" font-weight="bold" font-style="normal" fill="#000" textLength="42.0" lengthAdjust="spacingAndGlyphs" >50</text><text x="786.3" y="870.0" font-family='"Liberation Serif", "DejaVu Serif", serif' font-size="37.5" font-weight="bold" font-style="normal" fill="#000" textLength="42.0" lengthAdjust="spacingAndGlyphs" >60</text><text x="889.1" y="870.0" font-family='"Liberation Serif", "DejaVu Serif", serif' font-size="37.5" font-weight="bold" font-style="normal" fill="#000" textLength="42.0" lengthAdjust="spacingAndGlyphs" >70</text><text x="991.9" y="870.0" font-family='"Liberation Serif", "DejaVu Serif", serif' font-size="37.5" font-weight="bold" font-style="normal" fill="#000" textLength="42.0" lengthAdjust="spacingAndGlyphs" >80</text><text x="1094.6" y="870.0" font-family='"Liberation Serif", "DejaVu Serif", serif' font-size="37.5" font-weight="bold" font-style="normal" fill="#000" textLength="42.0" lengthAdjust="spacingAndGlyphs" >90</text><text x="458.5" y="933.2" font-family='"Liberation Serif", "DejaVu Serif", serif' font-size="39.5" font-weight="bold" font-style="normal" fill="#000" textLength="358.8" lengthAdjust="spacingAndGlyphs" >Measured Value/kPa</text><g transform="translate(51.1,629.6) rotate(-90)"><text x="0.0" y="0.0" font-family='"Liberation Serif", "DejaVu Serif", serif' font-size="39.5" font-weight="bold" font-style="normal" fill="#000" textLength="339.6" lengthAdjust="spacingAndGlyphs" >Predictive Value/kPa</text></g></g><text x="9" y="44" font-family='"Liberation Sans", "DejaVu Sans", sans-serif' font-size="49.5" font-weight="bold" fill="#000">A</text><text x="558.5" y="1108.8" font-family='"Liberation Serif", "DejaVu Serif", serif' font-size="59" font-weight="normal" font-style="normal" fill="#000" textLength="158.3" lengthAdjust="spacingAndGlyphs" >BPNN</text></g>
<g id="panel-B"><clipPath id="clipB"><rect x="1504.3" y="91.6" width="961.0" height="740.6"/></clipPath><g filter="url(#soft)"><g clip-path="url(#clipB)"><polygon points="1538,732.4 2370.4,209.7 2370.4,299.7 1538,822.4" fill="#ffe4e4"/></g><rect x="1507" y="94.3" width="955.5999999999999" height="735.2" fill="none" stroke="#000" stroke-width="5.4"/><path d="M1544.5 829.5V815.5M1641.2 829.5V815.5M1737.9 829.5V815.5M1834.6 829.5V815.5M1931.3 829.5V815.5M2028.0 829.5V815.5M2124.7 829.5V815.5M2221.4 829.5V815.5M2318.1 829.5V815.5M2414.8 829.5V815.5M1592.8 829.5V822.5M1689.5 829.5V822.5M1786.2 829.5V822.5M1883.0 829.5V822.5M1979.7 829.5V822.5M2076.3 829.5V822.5M2173.1 829.5V822.5M2269.8 829.5V822.5M2366.4 829.5V822.5" stroke="#000" stroke-width="4.2" fill="none"/><g clip-path="url(#clipB)"><use href="#p" x="2364.8" y="484.3"/><use href="#p" x="2355.3" y="484.3"/><use href="#p" x="2328.0" y="484.3"/><use href="#p" x="2283.3" y="484.3"/><use href="#p" x="2273.0" y="484.3"/><use href="#p" x="2046.5" y="484.3"/><use href="#p" x="1975.5" y="537.8"/><use href="#p" x="1948.7" y="545.9"/><use href="#p" x="1962.7" y="545.8"/><use href="#p" x="1943.6" y="546.9"/><use href="#p" x="1955.4" y="546.3"/><use href="#p" x="1906.7" y="521.9"/><use href="#p" x="1935.5" y="545.9"/><use href="#p" x="1914.6" y="545.0"/><use href="#p" x="1921.5" y="546.6"/><use href="#p" x="1915.1" y="538.6"/><use href="#p" x="1893.0" y="530.9"/><use href="#p" x="1909.0" y="531.9"/><use href="#p" x="1885.6" y="515.9"/><use href="#p" x="1893.2" y="548.9"/><use href="#p" x="1897.6" y="525.8"/><use href="#p" x="1855.0" y="481.7"/><use href="#p" x="1893.4" y="515.7"/><use href="#p" x="1898.5" y="538.0"/><use href="#p" x="1903.4" y="546.6"/><use href="#p" x="1839.3" y="482.9"/><use href="#p" x="1893.7" y="557.6"/><use href="#p" x="1890.7" y="546.6"/><use href="#p" x="1880.5" y="529.5"/><use href="#p" x="1887.3" y="537.6"/><use href="#p" x="1866.7" y="545.7"/><use href="#p" x="1902.0" y="541.2"/><use href="#p" x="1879.9" y="536.0"/><use href="#p" x="1886.7" y="553.9"/><use href="#p" x="1878.6" y="563.0"/><use href="#p" x="1887.7" y="525.3"/><use href="#p" x="1887.2" y="561.6"/><use href="#p" x="1878.0" y="548.8"/><use href="#p" x="1853.8" y="492.6"/><use href="#p" x="1881.6" y="571.4"/><use href="#p" x="1866.7" y="554.2"/><use href="#p" x="1861.9" y="568.8"/><use href="#p" x="1861.4" y="549.6"/><use href="#p" x="1869.4" y="572.5"/><use href="#p" x="1877.6" y="580.9"/><use href="#p" x="1866.7" y="562.7"/><use href="#p" x="1865.3" y="590.8"/><use href="#p" x="1876.6" y="556.8"/><use href="#p" x="1853.7" y="566.3"/><use href="#p" x="1856.8" y="588.0"/><use href="#p" x="1884.0" y="575.8"/><use href="#p" x="1831.5" y="550.0"/><use href="#p" x="1843.4" y="543.7"/><use href="#p" x="1862.6" y="596.5"/><use href="#p" x="1836.9" y="538.5"/><use href="#p" x="1847.8" y="589.2"/><use href="#p" x="1867.6" y="584.4"/><use href="#p" x="1851.5" y="547.5"/><use href="#p" x="1849.4" y="555.6"/><use href="#p" x="1859.7" y="558.0"/><use href="#p" x="1857.8" y="580.1"/><use href="#p" x="1844.2" y="571.8"/><use href="#p" x="1856.7" y="607.9"/><use href="#p" x="1839.8" y="564.6"/><use href="#p" x="1840.3" y="554.8"/><use href="#p" x="1831.4" y="580.6"/><use href="#p" x="1831.4" y="560.0"/><use href="#p" x="1847.4" y="593.2"/><use href="#p" x="1823.6" y="563.5"/><use href="#p" x="1842.9" y="592.3"/><use href="#p" x="1843.8" y="602.9"/><use href="#p" x="1825.2" y="553.4"/><use href="#p" x="1830.4" y="541.4"/><use href="#p" x="1850.0" y="579.2"/><use href="#p" x="1864.7" y="617.1"/><use href="#p" x="1842.5" y="584.0"/><use href="#p" x="1824.9" y="584.0"/><use href="#p" x="1834.8" y="573.1"/><use href="#p" x="1813.0" y="573.1"/><use href="#p" x="1834.1" y="625.3"/><use href="#p" x="1835.1" y="588.0"/><use href="#p" x="1849.1" y="604.8"/><use href="#p" x="1807.0" y="580.8"/><use href="#p" x="1842.9" y="612.6"/><use href="#p" x="1853.4" y="616.5"/><use href="#p" x="1822.8" y="575.8"/><use href="#p" x="1803.9" y="599.3"/><use href="#p" x="1813.3" y="591.0"/><use href="#p" x="1794.9" y="587.3"/><use href="#p" x="1815.9" y="608.4"/><use href="#p" x="1822.3" y="600.6"/><use href="#p" x="1812.0" y="582.3"/><use href="#p" x="1829.4" y="608.6"/><use href="#p" x="1793.8" y="593.3"/><use href="#p" x="1828.8" y="596.7"/><use href="#p" x="1796.2" y="578.4"/><use href="#p" x="1839.4" y="619.5"/><use href="#p" x="1821.2" y="591.1"/><use href="#p" x="1814.5" y="620.9"/><use href="#p" x="1830.8" y="615.9"/><use href="#p" x="1801.6" y="591.0"/><use href="#p" x="1821.7" y="630.4"/><use href="#p" x="1804.5" y="626.4"/><use href="#p" x="1805.5" y="575.1"/><use href="#p" x="1795.0" y="600.4"/><use href="#p" x="1816.6" y="597.6"/><use href="#p" x="1820.9" y="614.5"/><use href="#p" x="1807.8" y="617.2"/><use href="#p" x="1819.7" y="623.2"/><use href="#p" x="1778.6" y="609.0"/><use href="#p" x="1800.5" y="609.6"/><use href="#p" x="1785.7" y="630.3"/><use href="#p" x="1785.3" y="593.1"/><use href="#p" x="1782.6" y="617.4"/><use href="#p" x="1791.8" y="613.4"/><use href="#p" x="1814.6" y="628.2"/><use href="#p" x="1786.3" y="602.5"/><use href="#p" x="1792.5" y="621.9"/><use href="#p" x="1797.2" y="628.6"/><use href="#p" x="1763.7" y="623.0"/><use href="#p" x="1778.5" y="620.4"/><use href="#p" x="1783.6" y="614.4"/><use href="#p" x="1793.3" y="649.8"/><use href="#p" x="1774.3" y="631.6"/><use href="#p" x="1754.5" y="630.0"/><use href="#p" x="1770.5" y="639.9"/><use href="#p" x="1781.2" y="648.6"/><use href="#p" x="1769.2" y="630.2"/><use href="#p" x="1773.9" y="640.0"/><use href="#p" x="1781.2" y="669.2"/><use href="#p" x="1764.4" y="646.5"/><use href="#p" x="1746.9" y="637.8"/><use href="#p" x="1771.6" y="664.3"/><use href="#p" x="1673.6" y="482.9"/><use href="#p" x="1765.5" y="658.3"/><use href="#p" x="1759.3" y="650.7"/><use href="#p" x="1741.4" y="644.0"/><use href="#p" x="1748.3" y="647.0"/><use href="#p" x="1759.8" y="642.2"/><use href="#p" x="1743.3" y="651.7"/><use href="#p" x="1725.2" y="652.2"/><use href="#p" x="1741.8" y="671.0"/><use href="#p" x="1741.7" y="662.3"/><use href="#p" x="1673.6" y="511.9"/><use href="#p" x="1752.6" y="654.9"/><use href="#p" x="1728.2" y="645.3"/><use href="#p" x="1730.5" y="655.9"/><use href="#p" x="1721.0" y="667.0"/><use href="#p" x="1699.7" y="646.8"/><use href="#p" x="1745.0" y="676.4"/><use href="#p" x="1715.6" y="651.6"/><use href="#p" x="1722.0" y="658.4"/><use href="#p" x="1692.3" y="650.7"/><use href="#p" x="1715.2" y="678.9"/><use href="#p" x="1706.0" y="659.6"/><use href="#p" x="1673.6" y="575.5"/><use href="#p" x="1713.8" y="688.3"/><use href="#p" x="1732.2" y="669.0"/><use href="#p" x="1713.8" y="668.3"/><use href="#p" x="1722.1" y="680.2"/><use href="#p" x="1686.3" y="665.7"/><use href="#p" x="1704.3" y="683.6"/><use href="#p" x="1709.1" y="660.4"/><use href="#p" x="1673.6" y="617.9"/><use href="#p" x="1740.9" y="707.1"/><use href="#p" x="1693.7" y="659.2"/><use href="#p" x="1686.9" y="683.4"/><use href="#p" x="1672.2" y="657.0"/><use href="#p" x="1704.1" y="663.0"/><use href="#p" x="1696.2" y="685.8"/><use href="#p" x="1697.0" y="679.6"/><use href="#p" x="1684.8" y="694.2"/><use href="#p" x="1708.7" y="707.9"/><use href="#p" x="1701.5" y="672.2"/><use href="#p" x="1673.1" y="666.1"/><use href="#p" x="1702.5" y="691.2"/><use href="#p" x="1685.8" y="657.0"/><use href="#p" x="1674.6" y="675.0"/><use href="#p" x="1677.3" y="684.0"/><use href="#p" x="1683.5" y="675.0"/><use href="#p" x="1693.3" y="671.0"/><use href="#p" x="1700.2" y="707.9"/><use href="#p" x="1669.9" y="655.8"/><use href="#p" x="1654.8" y="667.8"/><use href="#p" x="1668.8" y="684.8"/><use href="#p" x="1700.1" y="699.8"/><use href="#p" x="1687.9" y="714.5"/><use href="#p" x="1645.9" y="658.4"/><use href="#p" x="1655.6" y="656.6"/><use href="#p" x="1692.7" y="700.4"/><use href="#p" x="1688.1" y="705.8"/><use href="#p" x="1662.5" y="692.6"/><use href="#p" x="1660.5" y="675.9"/><use href="#p" x="1672.2" y="705.8"/><use href="#p" x="1663.2" y="673.4"/><use href="#p" x="1657.6" y="690.1"/><use href="#p" x="1663.0" y="719.2"/><use href="#p" x="1691.1" y="706.3"/><use href="#p" x="1676.5" y="716.0"/><use href="#p" x="1672.5" y="691.9"/><use href="#p" x="1656.4" y="702.1"/><use href="#p" x="1676.9" y="721.2"/><use href="#p" x="1662.6" y="666.5"/><use href="#p" x="1664.0" y="711.9"/><use href="#p" x="1639.4" y="674.0"/><use href="#p" x="1656.5" y="683.7"/><use href="#p" x="1649.4" y="674.4"/><use href="#p" x="1648.8" y="668.8"/><use href="#p" x="1642.1" y="664.1"/><use href="#p" x="1631.4" y="677.7"/><use href="#p" x="1635.9" y="690.9"/><use href="#p" x="1644.0" y="690.9"/><use href="#p" x="1665.5" y="702.0"/><use href="#p" x="1649.5" y="710.0"/><use href="#p" x="1657.2" y="732.0"/><use href="#p" x="1647.1" y="700.3"/><use href="#p" x="1654.6" y="708.7"/><use href="#p" x="1647.2" y="685.0"/><use href="#p" x="1635.1" y="701.1"/><use href="#p" x="1645.8" y="727.6"/><use href="#p" x="1612.2" y="686.5"/><use href="#p" x="1616.6" y="685.4"/><use href="#p" x="1625.8" y="666.9"/><use href="#p" x="1648.0" y="738.2"/><use href="#p" x="1644.8" y="718.5"/><use href="#p" x="1659.3" y="719.5"/><use href="#p" x="1632.2" y="695.7"/><use href="#p" x="1665.2" y="731.0"/><use href="#p" x="1629.2" y="701.9"/><use href="#p" x="1657.8" y="738.0"/><use href="#p" x="1617.0" y="669.3"/><use href="#p" x="1634.9" y="684.4"/><use href="#p" x="1638.7" y="725.2"/><use href="#p" x="1616.6" y="678.8"/><use href="#p" x="1612.9" y="677.3"/><use href="#p" x="1630.6" y="711.6"/><use href="#p" x="1635.5" y="713.5"/><use href="#p" x="1632.5" y="686.9"/><use href="#p" x="1641.9" y="734.8"/><use href="#p" x="1601.8" y="694.1"/><use href="#p" x="1632.3" y="728.8"/><use href="#p" x="1629.5" y="748.2"/><use href="#p" x="1603.0" y="703.3"/><use href="#p" x="1623.9" y="722.7"/><use href="#p" x="1622.6" y="694.3"/><use href="#p" x="1610.4" y="735.3"/><use href="#p" x="1621.1" y="745.3"/><use href="#p" x="1616.7" y="733.4"/><use href="#p" x="1626.4" y="721.6"/><use href="#p" x="1630.1" y="739.5"/><use href="#p" x="1595.7" y="724.7"/><use href="#p" x="1608.9" y="699.4"/><use href="#p" x="1619.3" y="712.6"/><use href="#p" x="1636.6" y="741.2"/><use href="#p" x="1617.8" y="707.0"/><use href="#p" x="1607.5" y="742.3"/><use href="#p" x="1608.5" y="752.9"/><use href="#p" x="1613.7" y="714.0"/><use href="#p" x="1600.4" y="709.7"/><use href="#p" x="1608.0" y="706.4"/><use href="#p" x="1608.8" y="727.0"/><use href="#p" x="1582.3" y="708.1"/><use href="#p" x="1584.1" y="704.2"/><use href="#p" x="1594.1" y="705.9"/><use href="#p" x="1601.9" y="722.9"/><use href="#p" x="1602.7" y="726.4"/><use href="#p" x="1595.7" y="715.0"/><use href="#p" x="1585.1" y="736.4"/><use href="#p" x="1617.3" y="752.8"/><use href="#p" x="1596.1" y="736.0"/><use href="#p" x="1604.2" y="739.1"/><use href="#p" x="1604.9" y="745.5"/><use href="#p" x="1577.7" y="723.0"/><use href="#p" x="1598.6" y="761.1"/><use href="#p" x="1586.4" y="716.6"/><use href="#p" x="1566.3" y="742.8"/><use href="#p" x="1583.9" y="729.2"/><use href="#p" x="1581.3" y="745.8"/><use href="#p" x="1576.1" y="734.1"/><use href="#p" x="1596.2" y="778.0"/><use href="#p" x="1568.0" y="754.3"/><use href="#p" x="1574.1" y="752.8"/><use href="#p" x="1574.2" y="760.0"/><use href="#p" x="1566.8" y="763.8"/><use href="#p" x="1573.9" y="741.7"/><use href="#p" x="1550.1" y="749.5"/><use href="#p" x="1581.7" y="805.8"/><use href="#p" x="1567.0" y="771.8"/><use href="#p" x="1543.2" y="755.2"/><use href="#p" x="1549.2" y="768.7"/><use href="#p" x="1563.9" y="780.3"/><use href="#p" x="1559.2" y="745.9"/><use href="#p" x="1556.0" y="791.0"/><use href="#p" x="1547.9" y="775.7"/><use href="#p" x="1547.4" y="787.1"/><use href="#p" x="1555.5" y="771.6"/><use href="#p" x="1553.8" y="796.7"/><use href="#p" x="1555.4" y="753.4"/><use href="#p" x="1552.3" y="760.8"/><use href="#p" x="1574.4" y="803.4"/><use href="#p" x="1547.2" y="793.9"/><use href="#p" x="1546.1" y="804.9"/><use href="#p" x="1554.9" y="784.0"/><use href="#p" x="1555.9" y="819.0"/><use href="#p" x="1554.5" y="806.3"/><use href="#p" x="1561.1" y="816.7"/><use href="#p" x="1548.3" y="816.7"/><line x1="1538" y1="777.4" x2="2370.4" y2="254.7" stroke="#ff0000" stroke-opacity="0.13" stroke-width="10.2"/><line x1="1538" y1="777.4" x2="2370.4" y2="254.7" stroke="#ff0000" stroke-width="5.2"/></g><circle cx="1557" cy="124" r="8.7" fill="url(#pt)"/><line x1="1518" y1="171.8" x2="1595.5" y2="171.8" stroke="#ff0000" stroke-width="6" stroke-linecap="butt"/><text x="1612.0" y="135.8" font-family='"Liberation Serif", "DejaVu Serif", serif' font-size="37" font-weight="bold" font-style="normal" fill="#000" textLength="180.0" lengthAdjust="spacingAndGlyphs" >Data point</text><text x="1604.8" y="183.5" font-family='"Liberation Serif", "DejaVu Serif", serif' font-size="37" font-weight="bold" font-style="normal" fill="#000" textLength="185.8" lengthAdjust="spacingAndGlyphs" >Fitting line</text><text x="1521.0" y="230.8" font-family='"Liberation Serif", "DejaVu Serif", serif' font-size="37" font-weight="bold" font-style="normal" fill="#000" textLength="224.6" lengthAdjust="spacingAndGlyphs" >y=0.87x+2.03</text><text x="1521.0" y="279.2" font-family='"Liberation Serif", "DejaVu Serif", serif' font-size="37" font-weight="bold" font-style="normal" fill="#000" textLength="120.0" lengthAdjust="spacingAndGlyphs" >R=0.94</text><text x="1469.0" y="800.1" font-family='"Liberation Serif", "DejaVu Serif", serif' font-size="38.5" font-weight="bold" font-style="normal" fill="#000" textLength="20.3" lengthAdjust="spacingAndGlyphs" >0</text><text x="1448.7" y="730.9" font-family='"Liberation Serif", "DejaVu Serif", serif' font-size="38.5" font-weight="bold" font-style="normal" fill="#000" textLength="40.6" lengthAdjust="spacingAndGlyphs" >10</text><text x="1448.7" y="661.7" font-family='"Liberation Serif", "DejaVu Serif", serif' font-size="38.5" font-weight="bold" font-style="normal" fill="#000" textLength="40.6" lengthAdjust="spacingAndGlyphs" >20</text><text x="1448.7" y="592.5" font-family='"Liberation Serif", "DejaVu Serif", serif' font-size="38.5" font-weight="bold" font-style="normal" fill="#000" textLength="40.6" lengthAdjust="spacingAndGlyphs" >30</text><text x="1448.7" y="523.3" font-family='"Liberation Serif", "DejaVu Serif", serif' font-size="38.5" font-weight="bold" font-style="normal" fill="#000" textLength="40.6" lengthAdjust="spacingAndGlyphs" >40</text><text x="1448.7" y="454.1" font-family='"Liberation Serif", "DejaVu Serif", serif' font-size="38.5" font-weight="bold" font-style="normal" fill="#000" textLength="40.6" lengthAdjust="spacingAndGlyphs" >50</text><text x="1448.7" y="384.9" font-family='"Liberation Serif", "DejaVu Serif", serif' font-size="38.5" font-weight="bold" font-style="normal" fill="#000" textLength="40.6" lengthAdjust="spacingAndGlyphs" >60</text><text x="1448.7" y="315.7" font-family='"Liberation Serif", "DejaVu Serif", serif' font-size="38.5" font-weight="bold" font-style="normal" fill="#000" textLength="40.6" lengthAdjust="spacingAndGlyphs" >70</text><text x="1448.7" y="246.5" font-family='"Liberation Serif", "DejaVu Serif", serif' font-size="38.5" font-weight="bold" font-style="normal" fill="#000" textLength="40.6" lengthAdjust="spacingAndGlyphs" >80</text><text x="1448.7" y="177.3" font-family='"Liberation Serif", "DejaVu Serif", serif' font-size="38.5" font-weight="bold" font-style="normal" fill="#000" textLength="40.6" lengthAdjust="spacingAndGlyphs" >90</text><text x="1428.4" y="108.1" font-family='"Liberation Serif", "DejaVu Serif", serif' font-size="38.5" font-weight="bold" font-style="normal" fill="#000" textLength="60.9" lengthAdjust="spacingAndGlyphs" >100</text><text x="1534.0" y="875.3" font-family='"Liberation Serif", "DejaVu Serif", serif' font-size="38.5" font-weight="bold" font-style="normal" fill="#000" textLength="21.0" lengthAdjust="spacingAndGlyphs" >0</text><text x="1620.2" y="875.3" font-family='"Liberation Serif", "DejaVu Serif", serif' font-size="38.5" font-weight="bold" font-style="normal" fill="#000" textLength="42.0" lengthAdjust="spacingAndGlyphs" >10</text><text x="1716.9" y="875.3" font-family='"Liberation Serif", "DejaVu Serif", serif' font-size="38.5" font-weight="bold" font-style="normal" fill="#000" textLength="42.0" lengthAdjust="spacingAndGlyphs" >20</text><text x="1813.6" y="875.3" font-family='"Liberation Serif", "DejaVu Serif", serif' font-size="38.5" font-weight="bold" font-style="normal" fill="#000" textLength="42.0" lengthAdjust="spacingAndGlyphs" >30</text><text x="1910.3" y="875.3" font-family='"Liberation Serif", "DejaVu Serif", serif' font-size="38.5" font-weight="bold" font-style="normal" fill="#000" textLength="42.0" lengthAdjust="spacingAndGlyphs" >40</text><text x="2007.0" y="875.3" font-family='"Liberation Serif", "DejaVu Serif", serif' font-size="38.5" font-weight="bold" font-style="normal" fill="#000" textLength="42.0" lengthAdjust="spacingAndGlyphs" >50</text><text x="2103.7" y="875.3" font-family='"Liberation Serif", "DejaVu Serif", serif' font-size="38.5" font-weight="bold" font-style="normal" fill="#000" textLength="42.0" lengthAdjust="spacingAndGlyphs" >60</text><text x="2200.4" y="875.3" font-family='"Liberation Serif", "DejaVu Serif", serif' font-size="38.5" font-weight="bold" font-style="normal" fill="#000" textLength="42.0" lengthAdjust="spacingAndGlyphs" >70</text><text x="2297.1" y="875.3" font-family='"Liberation Serif", "DejaVu Serif", serif' font-size="38.5" font-weight="bold" font-style="normal" fill="#000" textLength="42.0" lengthAdjust="spacingAndGlyphs" >80</text><text x="2393.8" y="875.3" font-family='"Liberation Serif", "DejaVu Serif", serif' font-size="38.5" font-weight="bold" font-style="normal" fill="#000" textLength="42.0" lengthAdjust="spacingAndGlyphs" >90</text><text x="1805.5" y="938.6" font-family='"Liberation Serif", "DejaVu Serif", serif' font-size="39.5" font-weight="bold" font-style="normal" fill="#000" textLength="358.3" lengthAdjust="spacingAndGlyphs" >Measured Value/kPa</text><g transform="translate(1391.6,633.0) rotate(-90)"><text x="0.0" y="0.0" font-family='"Liberation Serif", "DejaVu Serif", serif' font-size="39.5" font-weight="bold" font-style="normal" fill="#000" textLength="343.0" lengthAdjust="spacingAndGlyphs" >Predictive Value/kPa</text></g></g><text x="1352" y="43.5" font-family='"Liberation Sans", "DejaVu Sans", sans-serif' font-size="49.5" font-weight="bold" fill="#000">B</text><text x="1784.0" y="1109.6" font-family='"Liberation Serif", "DejaVu Serif", serif' font-size="59" font-weight="normal" font-style="normal" fill="#000" textLength="259.6" lengthAdjust="spacingAndGlyphs" >GA-BPNN</text></g>
<g id="panel-C"><line x1="13" y1="2055.5" x2="1158.7" y2="2055.5" stroke="#f3f3f3" stroke-width="2"/><clipPath id="clipC"><rect x="153.4" y="1185.9" width="986.3" height="753.7"/></clipPath><g filter="url(#soft)"><g clip-path="url(#clipC)"><polygon points="168.2,1831.5 1099.4,1232.8 1099.4,1330.8 168.2,1929.5" fill="#ffe4e4"/></g><rect x="156" y="1188.5" width="981.0999999999999" height="748.5" fill="none" stroke="#000" stroke-width="5.2"/><path d="M177.7 1937V1923M284.2 1937V1923M390.7 1937V1923M497.2 1937V1923M603.7 1937V1923M710.2 1937V1923M816.7 1937V1923M923.2 1937V1923M1029.7 1937V1923M230.9 1937V1930M337.4 1937V1930M443.9 1937V1930M550.5 1937V1930M657.0 1937V1930M763.5 1937V1930M870.0 1937V1930M976.5 1937V1930M1083.0 1937V1930" stroke="#000" stroke-width="4.2" fill="none"/><g clip-path="url(#clipC)"><circle cx="1090.0" cy="1523.0" r="8.7" fill="url(#pt)"/><circle cx="1073.3" cy="1522.0" r="8.7" fill="url(#pt)"/><circle cx="992.5" cy="1519.8" r="8.7" fill="url(#pt)"/><circle cx="968.0" cy="1533.3" r="8.7" fill="url(#pt)"/><circle cx="925.5" cy="1538.7" r="8.7" fill="url(#pt)"/><circle cx="795.6" cy="1556.0" r="8.7" fill="url(#pt)"/><circle cx="777.0" cy="1564.5" r="8.7" fill="url(#pt)"/><circle cx="689.6" cy="1574.8" r="8.7" fill="url(#pt)"/><circle cx="633.8" cy="1585.6" r="8.7" fill="url(#pt)"/><circle cx="621.7" cy="1585.6" r="8.7" fill="url(#pt)"/><circle cx="591.2" cy="1575.8" r="8.7" fill="url(#pt)"/><circle cx="604.5" cy="1584.8" r="8.7" fill="url(#pt)"/><circle cx="588.1" cy="1587.4" r="8.7" fill="url(#pt)"/><circle cx="576.7" cy="1579.0" r="8.7" fill="url(#pt)"/><circle cx="593.7" cy="1587.1" r="8.7" fill="url(#pt)"/><circle cx="574.6" cy="1591.7" r="8.7" fill="url(#pt)"/><circle cx="571.7" cy="1598.4" r="8.7" fill="url(#pt)"/><circle cx="560.4" cy="1593.5" r="8.7" fill="url(#pt)"/><circle cx="571.5" cy="1586.9" r="8.7" fill="url(#pt)"/><circle cx="549.1" cy="1594.1" r="8.7" fill="url(#pt)"/><circle cx="556.9" cy="1604.2" r="8.7" fill="url(#pt)"/><circle cx="556.4" cy="1601.4" r="8.7" fill="url(#pt)"/><circle cx="549.1" cy="1626.8" r="8.7" fill="url(#pt)"/><circle cx="558.8" cy="1609.8" r="8.7" fill="url(#pt)"/><circle cx="555.2" cy="1619.5" r="8.7" fill="url(#pt)"/><circle cx="539.5" cy="1594.1" r="8.7" fill="url(#pt)"/><circle cx="532.2" cy="1595.3" r="8.7" fill="url(#pt)"/><circle cx="560.2" cy="1610.5" r="8.7" fill="url(#pt)"/><circle cx="551.3" cy="1597.0" r="8.7" fill="url(#pt)"/><circle cx="523.7" cy="1601.4" r="8.7" fill="url(#pt)"/><circle cx="549.3" cy="1634.8" r="8.7" fill="url(#pt)"/><circle cx="539.3" cy="1639.2" r="8.7" fill="url(#pt)"/><circle cx="517.7" cy="1625.5" r="8.7" fill="url(#pt)"/><circle cx="508.0" cy="1611.1" r="8.7" fill="url(#pt)"/><circle cx="534.1" cy="1654.5" r="8.7" fill="url(#pt)"/><circle cx="538.2" cy="1657.6" r="8.7" fill="url(#pt)"/><circle cx="516.5" cy="1614.7" r="8.7" fill="url(#pt)"/><circle cx="566.1" cy="1671.5" r="8.7" fill="url(#pt)"/><circle cx="529.0" cy="1648.0" r="8.7" fill="url(#pt)"/><circle cx="518.9" cy="1595.3" r="8.7" fill="url(#pt)"/><circle cx="519.0" cy="1629.7" r="8.7" fill="url(#pt)"/><circle cx="542.3" cy="1649.7" r="8.7" fill="url(#pt)"/><circle cx="514.1" cy="1606.2" r="8.7" fill="url(#pt)"/><circle cx="527.4" cy="1631.6" r="8.7" fill="url(#pt)"/><circle cx="502.8" cy="1629.4" r="8.7" fill="url(#pt)"/><circle cx="539.5" cy="1633.5" r="8.7" fill="url(#pt)"/><circle cx="510.8" cy="1641.4" r="8.7" fill="url(#pt)"/><circle cx="513.2" cy="1629.4" r="8.7" fill="url(#pt)"/><circle cx="511.1" cy="1621.8" r="8.7" fill="url(#pt)"/><circle cx="549.1" cy="1667.9" r="8.7" fill="url(#pt)"/><circle cx="523.5" cy="1641.4" r="8.7" fill="url(#pt)"/><circle cx="498.0" cy="1638.4" r="8.7" fill="url(#pt)"/><circle cx="534.0" cy="1634.5" r="8.7" fill="url(#pt)"/><circle cx="528.9" cy="1669.2" r="8.7" fill="url(#pt)"/><circle cx="489.4" cy="1625.2" r="8.7" fill="url(#pt)"/><circle cx="509.3" cy="1659.1" r="8.7" fill="url(#pt)"/><circle cx="518.4" cy="1685.9" r="8.7" fill="url(#pt)"/><circle cx="494.1" cy="1656.4" r="8.7" fill="url(#pt)"/><circle cx="501.0" cy="1622.2" r="8.7" fill="url(#pt)"/><circle cx="527.4" cy="1676.5" r="8.7" fill="url(#pt)"/><circle cx="519.8" cy="1647.3" r="8.7" fill="url(#pt)"/><circle cx="507.7" cy="1654.8" r="8.7" fill="url(#pt)"/><circle cx="511.3" cy="1669.4" r="8.7" fill="url(#pt)"/><circle cx="512.5" cy="1680.4" r="8.7" fill="url(#pt)"/><circle cx="521.8" cy="1665.5" r="8.7" fill="url(#pt)"/><circle cx="522.5" cy="1662.3" r="8.7" fill="url(#pt)"/><circle cx="483.3" cy="1635.2" r="8.7" fill="url(#pt)"/><circle cx="508.5" cy="1689.7" r="8.7" fill="url(#pt)"/><circle cx="494.6" cy="1685.0" r="8.7" fill="url(#pt)"/><circle cx="504.3" cy="1647.1" r="8.7" fill="url(#pt)"/><circle cx="491.9" cy="1666.9" r="8.7" fill="url(#pt)"/><circle cx="517.3" cy="1675.4" r="8.7" fill="url(#pt)"/><circle cx="518.9" cy="1699.3" r="8.7" fill="url(#pt)"/><circle cx="491.0" cy="1675.6" r="8.7" fill="url(#pt)"/><circle cx="484.6" cy="1650.8" r="8.7" fill="url(#pt)"/><circle cx="501.7" cy="1656.6" r="8.7" fill="url(#pt)"/><circle cx="481.6" cy="1645.9" r="8.7" fill="url(#pt)"/><circle cx="489.2" cy="1634.6" r="8.7" fill="url(#pt)"/><circle cx="501.3" cy="1674.6" r="8.7" fill="url(#pt)"/><circle cx="489.8" cy="1646.3" r="8.7" fill="url(#pt)"/><circle cx="484.9" cy="1681.1" r="8.7" fill="url(#pt)"/><circle cx="520.1" cy="1704.2" r="8.7" fill="url(#pt)"/><circle cx="498.2" cy="1683.4" r="8.7" fill="url(#pt)"/><circle cx="485.9" cy="1663.5" r="8.7" fill="url(#pt)"/><circle cx="474.1" cy="1681.4" r="8.7" fill="url(#pt)"/><circle cx="466.5" cy="1649.7" r="8.7" fill="url(#pt)"/><circle cx="464.4" cy="1667.4" r="8.7" fill="url(#pt)"/><circle cx="471.1" cy="1651.4" r="8.7" fill="url(#pt)"/><circle cx="474.7" cy="1669.0" r="8.7" fill="url(#pt)"/><circle cx="499.7" cy="1665.5" r="8.7" fill="url(#pt)"/><circle cx="494.3" cy="1704.9" r="8.7" fill="url(#pt)"/><circle cx="499.4" cy="1694.9" r="8.7" fill="url(#pt)"/><circle cx="476.7" cy="1685.2" r="8.7" fill="url(#pt)"/><circle cx="473.7" cy="1642.0" r="8.7" fill="url(#pt)"/><circle cx="465.1" cy="1679.2" r="8.7" fill="url(#pt)"/><circle cx="486.4" cy="1673.8" r="8.7" fill="url(#pt)"/><circle cx="447.0" cy="1639.3" r="8.7" fill="url(#pt)"/><circle cx="502.0" cy="1694.5" r="8.7" fill="url(#pt)"/><circle cx="453.9" cy="1668.2" r="8.7" fill="url(#pt)"/><circle cx="469.8" cy="1660.3" r="8.7" fill="url(#pt)"/><circle cx="485.5" cy="1694.5" r="8.7" fill="url(#pt)"/><circle cx="467.6" cy="1656.9" r="8.7" fill="url(#pt)"/><circle cx="457.1" cy="1679.1" r="8.7" fill="url(#pt)"/><circle cx="490.0" cy="1698.1" r="8.7" fill="url(#pt)"/><circle cx="443.7" cy="1675.8" r="8.7" fill="url(#pt)"/><circle cx="476.6" cy="1744.1" r="8.7" fill="url(#pt)"/><circle cx="485.9" cy="1701.0" r="8.7" fill="url(#pt)"/><circle cx="475.9" cy="1697.4" r="8.7" fill="url(#pt)"/><circle cx="453.7" cy="1695.8" r="8.7" fill="url(#pt)"/><circle cx="454.7" cy="1708.3" r="8.7" fill="url(#pt)"/><circle cx="485.1" cy="1711.1" r="8.7" fill="url(#pt)"/><circle cx="460.0" cy="1714.8" r="8.7" fill="url(#pt)"/><circle cx="471.4" cy="1713.5" r="8.7" fill="url(#pt)"/><circle cx="483.8" cy="1739.2" r="8.7" fill="url(#pt)"/><circle cx="441.9" cy="1702.7" r="8.7" fill="url(#pt)"/><circle cx="465.3" cy="1722.3" r="8.7" fill="url(#pt)"/><circle cx="465.5" cy="1684.1" r="8.7" fill="url(#pt)"/><circle cx="452.1" cy="1716.3" r="8.7" fill="url(#pt)"/><circle cx="456.8" cy="1726.5" r="8.7" fill="url(#pt)"/><circle cx="469.9" cy="1704.8" r="8.7" fill="url(#pt)"/><circle cx="466.9" cy="1694.5" r="8.7" fill="url(#pt)"/><circle cx="427.3" cy="1691.8" r="8.7" fill="url(#pt)"/><circle cx="438.5" cy="1714.7" r="8.7" fill="url(#pt)"/><circle cx="455.3" cy="1685.4" r="8.7" fill="url(#pt)"/><circle cx="433.7" cy="1708.2" r="8.7" fill="url(#pt)"/><circle cx="464.8" cy="1705.3" r="8.7" fill="url(#pt)"/><circle cx="429.5" cy="1699.5" r="8.7" fill="url(#pt)"/><circle cx="445.4" cy="1687.2" r="8.7" fill="url(#pt)"/><circle cx="460.8" cy="1752.5" r="8.7" fill="url(#pt)"/><circle cx="437.6" cy="1691.8" r="8.7" fill="url(#pt)"/><circle cx="437.4" cy="1699.3" r="8.7" fill="url(#pt)"/><circle cx="447.3" cy="1724.4" r="8.7" fill="url(#pt)"/><circle cx="443.9" cy="1697.1" r="8.7" fill="url(#pt)"/><circle cx="437.7" cy="1734.7" r="8.7" fill="url(#pt)"/><circle cx="426.8" cy="1719.8" r="8.7" fill="url(#pt)"/><circle cx="442.5" cy="1731.3" r="8.7" fill="url(#pt)"/><circle cx="452.4" cy="1756.2" r="8.7" fill="url(#pt)"/><circle cx="432.1" cy="1683.5" r="8.7" fill="url(#pt)"/><circle cx="418.3" cy="1712.6" r="8.7" fill="url(#pt)"/><circle cx="441.8" cy="1711.1" r="8.7" fill="url(#pt)"/><circle cx="424.5" cy="1736.0" r="8.7" fill="url(#pt)"/><circle cx="408.8" cy="1692.1" r="8.7" fill="url(#pt)"/><circle cx="320.1" cy="1578.4" r="8.7" fill="url(#pt)"/><circle cx="435.6" cy="1724.8" r="8.7" fill="url(#pt)"/><circle cx="405.2" cy="1724.5" r="8.7" fill="url(#pt)"/><circle cx="418.5" cy="1689.7" r="8.7" fill="url(#pt)"/><circle cx="417.7" cy="1730.8" r="8.7" fill="url(#pt)"/><circle cx="417.1" cy="1718.9" r="8.7" fill="url(#pt)"/><circle cx="446.3" cy="1739.2" r="8.7" fill="url(#pt)"/><circle cx="397.9" cy="1696.9" r="8.7" fill="url(#pt)"/><circle cx="422.1" cy="1765.8" r="8.7" fill="url(#pt)"/><circle cx="410.7" cy="1733.6" r="8.7" fill="url(#pt)"/><circle cx="424.7" cy="1712.0" r="8.7" fill="url(#pt)"/><circle cx="407.0" cy="1749.4" r="8.7" fill="url(#pt)"/><circle cx="427.2" cy="1727.9" r="8.7" fill="url(#pt)"/><circle cx="418.5" cy="1771.9" r="8.7" fill="url(#pt)"/><circle cx="414.0" cy="1740.2" r="8.7" fill="url(#pt)"/><circle cx="400.8" cy="1723.5" r="8.7" fill="url(#pt)"/><circle cx="387.5" cy="1723.3" r="8.7" fill="url(#pt)"/><circle cx="391.7" cy="1742.0" r="8.7" fill="url(#pt)"/><circle cx="389.5" cy="1699.3" r="8.7" fill="url(#pt)"/><circle cx="381.4" cy="1726.7" r="8.7" fill="url(#pt)"/><circle cx="401.1" cy="1732.5" r="8.7" fill="url(#pt)"/><circle cx="401.6" cy="1771.9" r="8.7" fill="url(#pt)"/><circle cx="388.4" cy="1749.9" r="8.7" fill="url(#pt)"/><circle cx="407.3" cy="1738.7" r="8.7" fill="url(#pt)"/><circle cx="406.4" cy="1776.7" r="8.7" fill="url(#pt)"/><circle cx="376.6" cy="1737.1" r="8.7" fill="url(#pt)"/><circle cx="386.2" cy="1763.1" r="8.7" fill="url(#pt)"/><circle cx="399.7" cy="1743.4" r="8.7" fill="url(#pt)"/><circle cx="395.9" cy="1751.3" r="8.7" fill="url(#pt)"/><circle cx="413.7" cy="1782.8" r="8.7" fill="url(#pt)"/><circle cx="384.9" cy="1772.9" r="8.7" fill="url(#pt)"/><circle cx="399.2" cy="1793.7" r="8.7" fill="url(#pt)"/><circle cx="374.5" cy="1705.4" r="8.7" fill="url(#pt)"/><circle cx="355.1" cy="1709.5" r="8.7" fill="url(#pt)"/><circle cx="398.8" cy="1759.7" r="8.7" fill="url(#pt)"/><circle cx="385.7" cy="1733.5" r="8.7" fill="url(#pt)"/><circle cx="353.4" cy="1728.6" r="8.7" fill="url(#pt)"/><circle cx="375.3" cy="1765.0" r="8.7" fill="url(#pt)"/><circle cx="366.9" cy="1760.3" r="8.7" fill="url(#pt)"/><circle cx="320.1" cy="1640.1" r="8.7" fill="url(#pt)"/><circle cx="357.3" cy="1726.6" r="8.7" fill="url(#pt)"/><circle cx="371.9" cy="1729.0" r="8.7" fill="url(#pt)"/><circle cx="376.9" cy="1771.2" r="8.7" fill="url(#pt)"/><circle cx="371.9" cy="1777.0" r="8.7" fill="url(#pt)"/><circle cx="379.2" cy="1782.6" r="8.7" fill="url(#pt)"/><circle cx="356.9" cy="1745.9" r="8.7" fill="url(#pt)"/><circle cx="359.4" cy="1736.7" r="8.7" fill="url(#pt)"/><circle cx="320.1" cy="1681.2" r="8.7" fill="url(#pt)"/><circle cx="374.6" cy="1790.3" r="8.7" fill="url(#pt)"/><circle cx="368.8" cy="1747.3" r="8.7" fill="url(#pt)"/><circle cx="377.0" cy="1743.7" r="8.7" fill="url(#pt)"/><circle cx="380.4" cy="1750.8" r="8.7" fill="url(#pt)"/><circle cx="388.3" cy="1791.2" r="8.7" fill="url(#pt)"/><circle cx="359.4" cy="1775.4" r="8.7" fill="url(#pt)"/><circle cx="370.9" cy="1742.1" r="8.7" fill="url(#pt)"/><circle cx="349.6" cy="1739.8" r="8.7" fill="url(#pt)"/><circle cx="347.5" cy="1746.8" r="8.7" fill="url(#pt)"/><circle cx="366.5" cy="1787.0" r="8.7" fill="url(#pt)"/><circle cx="344.3" cy="1753.3" r="8.7" fill="url(#pt)"/><circle cx="358.1" cy="1757.9" r="8.7" fill="url(#pt)"/><circle cx="342.5" cy="1761.6" r="8.7" fill="url(#pt)"/><circle cx="362.1" cy="1793.8" r="8.7" fill="url(#pt)"/><circle cx="370.4" cy="1771.7" r="8.7" fill="url(#pt)"/><circle cx="337.2" cy="1743.9" r="8.7" fill="url(#pt)"/><circle cx="349.3" cy="1800.0" r="8.7" fill="url(#pt)"/><circle cx="381.0" cy="1802.1" r="8.7" fill="url(#pt)"/><circle cx="359.3" cy="1786.2" r="8.7" fill="url(#pt)"/><circle cx="339.3" cy="1733.7" r="8.7" fill="url(#pt)"/><circle cx="356.7" cy="1768.6" r="8.7" fill="url(#pt)"/><circle cx="342.1" cy="1775.3" r="8.7" fill="url(#pt)"/><circle cx="333.2" cy="1746.8" r="8.7" fill="url(#pt)"/><circle cx="347.6" cy="1758.7" r="8.7" fill="url(#pt)"/><circle cx="359.4" cy="1803.5" r="8.7" fill="url(#pt)"/><circle cx="348.5" cy="1766.4" r="8.7" fill="url(#pt)"/><circle cx="366.5" cy="1799.1" r="8.7" fill="url(#pt)"/><circle cx="324.6" cy="1774.4" r="8.7" fill="url(#pt)"/><circle cx="348.4" cy="1789.2" r="8.7" fill="url(#pt)"/><circle cx="376.2" cy="1858.3" r="8.7" fill="url(#pt)"/><circle cx="323.7" cy="1755.1" r="8.7" fill="url(#pt)"/><circle cx="318.3" cy="1764.7" r="8.7" fill="url(#pt)"/><circle cx="351.6" cy="1780.9" r="8.7" fill="url(#pt)"/><circle cx="340.4" cy="1794.4" r="8.7" fill="url(#pt)"/><circle cx="299.2" cy="1753.5" r="8.7" fill="url(#pt)"/><circle cx="317.7" cy="1787.9" r="8.7" fill="url(#pt)"/><circle cx="331.5" cy="1785.0" r="8.7" fill="url(#pt)"/><circle cx="320.1" cy="1728.4" r="8.7" fill="url(#pt)"/><circle cx="332.7" cy="1753.3" r="8.7" fill="url(#pt)"/><circle cx="350.7" cy="1806.9" r="8.7" fill="url(#pt)"/><circle cx="337.3" cy="1814.2" r="8.7" fill="url(#pt)"/><circle cx="329.0" cy="1801.7" r="8.7" fill="url(#pt)"/><circle cx="333.1" cy="1809.3" r="8.7" fill="url(#pt)"/><circle cx="333.0" cy="1767.6" r="8.7" fill="url(#pt)"/><circle cx="327.5" cy="1772.8" r="8.7" fill="url(#pt)"/><circle cx="341.9" cy="1783.7" r="8.7" fill="url(#pt)"/><circle cx="304.8" cy="1773.3" r="8.7" fill="url(#pt)"/><circle cx="281.8" cy="1728.4" r="8.7" fill="url(#pt)"/><circle cx="317.6" cy="1747.6" r="8.7" fill="url(#pt)"/><circle cx="290.3" cy="1721.1" r="8.7" fill="url(#pt)"/><circle cx="295.2" cy="1752.9" r="8.7" fill="url(#pt)"/><circle cx="329.0" cy="1789.9" r="8.7" fill="url(#pt)"/><circle cx="311.4" cy="1754.7" r="8.7" fill="url(#pt)"/><circle cx="350.8" cy="1819.1" r="8.7" fill="url(#pt)"/><circle cx="315.5" cy="1762.4" r="8.7" fill="url(#pt)"/><circle cx="313.3" cy="1804.4" r="8.7" fill="url(#pt)"/><circle cx="343.7" cy="1801.2" r="8.7" fill="url(#pt)"/><circle cx="309.0" cy="1794.3" r="8.7" fill="url(#pt)"/><circle cx="335.1" cy="1830.0" r="8.7" fill="url(#pt)"/><circle cx="304.9" cy="1784.6" r="8.7" fill="url(#pt)"/><circle cx="301.5" cy="1765.0" r="8.7" fill="url(#pt)"/><circle cx="349.6" cy="1859.0" r="8.7" fill="url(#pt)"/><circle cx="302.0" cy="1792.7" r="8.7" fill="url(#pt)"/><circle cx="291.5" cy="1733.2" r="8.7" fill="url(#pt)"/><circle cx="318.5" cy="1797.2" r="8.7" fill="url(#pt)"/><circle cx="315.2" cy="1774.8" r="8.7" fill="url(#pt)"/><circle cx="323.9" cy="1821.3" r="8.7" fill="url(#pt)"/><circle cx="330.0" cy="1818.7" r="8.7" fill="url(#pt)"/><circle cx="290.0" cy="1771.6" r="8.7" fill="url(#pt)"/><circle cx="310.1" cy="1782.3" r="8.7" fill="url(#pt)"/><circle cx="276.5" cy="1773.1" r="8.7" fill="url(#pt)"/><circle cx="282.3" cy="1775.8" r="8.7" fill="url(#pt)"/><circle cx="322.9" cy="1806.4" r="8.7" fill="url(#pt)"/><circle cx="291.8" cy="1814.9" r="8.7" fill="url(#pt)"/><circle cx="289.5" cy="1762.0" r="8.7" fill="url(#pt)"/><circle cx="286.9" cy="1809.6" r="8.7" fill="url(#pt)"/><circle cx="302.8" cy="1833.8" r="8.7" fill="url(#pt)"/><circle cx="325.1" cy="1814.0" r="8.7" fill="url(#pt)"/><circle cx="283.8" cy="1789.7" r="8.7" fill="url(#pt)"/><circle cx="274.7" cy="1766.0" r="8.7" fill="url(#pt)"/><circle cx="302.2" cy="1821.2" r="8.7" fill="url(#pt)"/><circle cx="301.9" cy="1814.3" r="8.7" fill="url(#pt)"/><circle cx="314.4" cy="1812.7" r="8.7" fill="url(#pt)"/><circle cx="258.9" cy="1761.0" r="8.7" fill="url(#pt)"/><circle cx="263.9" cy="1777.2" r="8.7" fill="url(#pt)"/><circle cx="277.3" cy="1786.5" r="8.7" fill="url(#pt)"/><circle cx="293.7" cy="1822.9" r="8.7" fill="url(#pt)"/><circle cx="286.1" cy="1814.4" r="8.7" fill="url(#pt)"/><circle cx="263.3" cy="1768.4" r="8.7" fill="url(#pt)"/><circle cx="290.6" cy="1832.6" r="8.7" fill="url(#pt)"/><circle cx="283.3" cy="1768.7" r="8.7" fill="url(#pt)"/><circle cx="308.9" cy="1831.3" r="8.7" fill="url(#pt)"/><circle cx="313.9" cy="1821.7" r="8.7" fill="url(#pt)"/><circle cx="309.7" cy="1840.8" r="8.7" fill="url(#pt)"/><circle cx="302.5" cy="1804.6" r="8.7" fill="url(#pt)"/><circle cx="296.8" cy="1786.5" r="8.7" fill="url(#pt)"/><circle cx="267.9" cy="1784.7" r="8.7" fill="url(#pt)"/><circle cx="327.8" cy="1859.0" r="8.7" fill="url(#pt)"/><circle cx="289.7" cy="1794.1" r="8.7" fill="url(#pt)"/><circle cx="277.4" cy="1797.0" r="8.7" fill="url(#pt)"/><circle cx="248.0" cy="1761.0" r="8.7" fill="url(#pt)"/><circle cx="267.6" cy="1808.3" r="8.7" fill="url(#pt)"/><circle cx="299.1" cy="1842.1" r="8.7" fill="url(#pt)"/><circle cx="277.2" cy="1804.2" r="8.7" fill="url(#pt)"/><circle cx="253.7" cy="1781.0" r="8.7" fill="url(#pt)"/><circle cx="291.6" cy="1802.8" r="8.7" fill="url(#pt)"/><circle cx="255.3" cy="1805.5" r="8.7" fill="url(#pt)"/><circle cx="294.8" cy="1853.2" r="8.7" fill="url(#pt)"/><circle cx="280.9" cy="1799.5" r="8.7" fill="url(#pt)"/><circle cx="264.0" cy="1817.2" r="8.7" fill="url(#pt)"/><circle cx="257.9" cy="1769.9" r="8.7" fill="url(#pt)"/><circle cx="282.9" cy="1857.3" r="8.7" fill="url(#pt)"/><circle cx="281.7" cy="1847.6" r="8.7" fill="url(#pt)"/><circle cx="290.0" cy="1844.0" r="8.7" fill="url(#pt)"/><circle cx="284.6" cy="1829.8" r="8.7" fill="url(#pt)"/><circle cx="260.6" cy="1798.9" r="8.7" fill="url(#pt)"/><circle cx="271.4" cy="1821.0" r="8.7" fill="url(#pt)"/><circle cx="258.1" cy="1788.9" r="8.7" fill="url(#pt)"/><circle cx="236.4" cy="1775.8" r="8.7" fill="url(#pt)"/><circle cx="270.1" cy="1814.6" r="8.7" fill="url(#pt)"/><circle cx="279.9" cy="1836.0" r="8.7" fill="url(#pt)"/><circle cx="291.5" cy="1857.8" r="8.7" fill="url(#pt)"/><circle cx="235.3" cy="1787.7" r="8.7" fill="url(#pt)"/><circle cx="273.3" cy="1843.6" r="8.7" fill="url(#pt)"/><circle cx="243.9" cy="1790.2" r="8.7" fill="url(#pt)"/><circle cx="252.8" cy="1795.9" r="8.7" fill="url(#pt)"/><circle cx="274.9" cy="1849.1" r="8.7" fill="url(#pt)"/><circle cx="252.5" cy="1824.3" r="8.7" fill="url(#pt)"/><circle cx="244.4" cy="1771.1" r="8.7" fill="url(#pt)"/><circle cx="267.9" cy="1821.7" r="8.7" fill="url(#pt)"/><circle cx="246.1" cy="1811.8" r="8.7" fill="url(#pt)"/><circle cx="275.3" cy="1831.7" r="8.7" fill="url(#pt)"/><circle cx="257.5" cy="1835.8" r="8.7" fill="url(#pt)"/><circle cx="247.7" cy="1797.6" r="8.7" fill="url(#pt)"/><circle cx="257.5" cy="1843.0" r="8.7" fill="url(#pt)"/><circle cx="266.5" cy="1834.7" r="8.7" fill="url(#pt)"/><circle cx="244.5" cy="1781.9" r="8.7" fill="url(#pt)"/><circle cx="257.5" cy="1818.8" r="8.7" fill="url(#pt)"/><circle cx="227.4" cy="1788.5" r="8.7" fill="url(#pt)"/><circle cx="243.0" cy="1838.8" r="8.7" fill="url(#pt)"/><circle cx="237.1" cy="1804.1" r="8.7" fill="url(#pt)"/><circle cx="248.2" cy="1868.0" r="8.7" fill="url(#pt)"/><circle cx="220.0" cy="1813.7" r="8.7" fill="url(#pt)"/><circle cx="244.1" cy="1857.5" r="8.7" fill="url(#pt)"/><circle cx="265.8" cy="1841.8" r="8.7" fill="url(#pt)"/><circle cx="225.0" cy="1810.9" r="8.7" fill="url(#pt)"/><circle cx="272.0" cy="1860.5" r="8.7" fill="url(#pt)"/><circle cx="227.7" cy="1836.3" r="8.7" fill="url(#pt)"/><circle cx="232.2" cy="1797.8" r="8.7" fill="url(#pt)"/><circle cx="248.0" cy="1827.9" r="8.7" fill="url(#pt)"/><circle cx="229.7" cy="1816.4" r="8.7" fill="url(#pt)"/><circle cx="262.8" cy="1849.8" r="8.7" fill="url(#pt)"/><circle cx="244.0" cy="1818.2" r="8.7" fill="url(#pt)"/><circle cx="222.9" cy="1801.1" r="8.7" fill="url(#pt)"/><circle cx="262.3" cy="1858.6" r="8.7" fill="url(#pt)"/><circle cx="237.0" cy="1816.5" r="8.7" fill="url(#pt)"/><circle cx="252.1" cy="1851.8" r="8.7" fill="url(#pt)"/><circle cx="257.4" cy="1861.5" r="8.7" fill="url(#pt)"/><circle cx="237.7" cy="1837.9" r="8.7" fill="url(#pt)"/><circle cx="226.2" cy="1826.6" r="8.7" fill="url(#pt)"/><circle cx="227.0" cy="1845.7" r="8.7" fill="url(#pt)"/><circle cx="201.1" cy="1825.5" r="8.7" fill="url(#pt)"/><circle cx="237.5" cy="1825.6" r="8.7" fill="url(#pt)"/><circle cx="217.9" cy="1823.0" r="8.7" fill="url(#pt)"/><circle cx="247.1" cy="1846.3" r="8.7" fill="url(#pt)"/><circle cx="237.4" cy="1859.1" r="8.7" fill="url(#pt)"/><circle cx="217.1" cy="1857.1" r="8.7" fill="url(#pt)"/><circle cx="218.8" cy="1834.2" r="8.7" fill="url(#pt)"/><circle cx="215.4" cy="1808.2" r="8.7" fill="url(#pt)"/><circle cx="234.0" cy="1865.7" r="8.7" fill="url(#pt)"/><circle cx="230.3" cy="1881.8" r="8.7" fill="url(#pt)"/><circle cx="226.0" cy="1864.7" r="8.7" fill="url(#pt)"/><circle cx="209.2" cy="1839.2" r="8.7" fill="url(#pt)"/><circle cx="232.2" cy="1843.5" r="8.7" fill="url(#pt)"/><circle cx="201.8" cy="1844.6" r="8.7" fill="url(#pt)"/><circle cx="210.4" cy="1824.4" r="8.7" fill="url(#pt)"/><circle cx="215.5" cy="1860.6" r="8.7" fill="url(#pt)"/><circle cx="224.4" cy="1871.3" r="8.7" fill="url(#pt)"/><circle cx="210.4" cy="1871.4" r="8.7" fill="url(#pt)"/><circle cx="214.6" cy="1881.6" r="8.7" fill="url(#pt)"/><circle cx="220.1" cy="1847.7" r="8.7" fill="url(#pt)"/><circle cx="222.6" cy="1895.3" r="8.7" fill="url(#pt)"/><circle cx="230.1" cy="1854.2" r="8.7" fill="url(#pt)"/><circle cx="198.1" cy="1862.6" r="8.7" fill="url(#pt)"/><circle cx="217.8" cy="1869.6" r="8.7" fill="url(#pt)"/><circle cx="210.8" cy="1832.4" r="8.7" fill="url(#pt)"/><circle cx="210.2" cy="1850.6" r="8.7" fill="url(#pt)"/><circle cx="205.8" cy="1856.4" r="8.7" fill="url(#pt)"/><circle cx="236.8" cy="1875.2" r="8.7" fill="url(#pt)"/><circle cx="189.6" cy="1831.3" r="8.7" fill="url(#pt)"/><circle cx="189.6" cy="1844.2" r="8.7" fill="url(#pt)"/><circle cx="176.9" cy="1841.2" r="8.7" fill="url(#pt)"/><circle cx="225.0" cy="1888.0" r="8.7" fill="url(#pt)"/><circle cx="218.9" cy="1900.1" r="8.7" fill="url(#pt)"/><circle cx="198.7" cy="1884.2" r="8.7" fill="url(#pt)"/><circle cx="195.1" cy="1834.1" r="8.7" fill="url(#pt)"/><circle cx="196.8" cy="1873.0" r="8.7" fill="url(#pt)"/><circle cx="175.1" cy="1869.6" r="8.7" fill="url(#pt)"/><circle cx="206.8" cy="1885.3" r="8.7" fill="url(#pt)"/><circle cx="199.0" cy="1852.9" r="8.7" fill="url(#pt)"/><circle cx="189.9" cy="1857.8" r="8.7" fill="url(#pt)"/><circle cx="191.5" cy="1888.5" r="8.7" fill="url(#pt)"/><circle cx="188.7" cy="1852.7" r="8.7" fill="url(#pt)"/><circle cx="204.2" cy="1879.2" r="8.7" fill="url(#pt)"/><circle cx="177.1" cy="1874.5" r="8.7" fill="url(#pt)"/><circle cx="180.0" cy="1855.9" r="8.7" fill="url(#pt)"/><circle cx="190.3" cy="1900.4" r="8.7" fill="url(#pt)"/><circle cx="178.0" cy="1850.5" r="8.7" fill="url(#pt)"/><circle cx="190.2" cy="1910.0" r="8.7" fill="url(#pt)"/><circle cx="186.9" cy="1876.3" r="8.7" fill="url(#pt)"/><circle cx="190.6" cy="1870.5" r="8.7" fill="url(#pt)"/><circle cx="181.7" cy="1893.7" r="8.7" fill="url(#pt)"/><circle cx="176.6" cy="1890.4" r="8.7" fill="url(#pt)"/><circle cx="200.9" cy="1903.0" r="8.7" fill="url(#pt)"/><circle cx="186.3" cy="1919.5" r="8.7" fill="url(#pt)"/><circle cx="199.5" cy="1893.4" r="8.7" fill="url(#pt)"/><circle cx="199.4" cy="1907.9" r="8.7" fill="url(#pt)"/><circle cx="188.1" cy="1927.5" r="8.7" fill="url(#pt)"/><circle cx="188.7" cy="1929.1" r="8.7" fill="url(#pt)"/><circle cx="193.5" cy="1907.4" r="8.7" fill="url(#pt)"/><circle cx="183.0" cy="1884.8" r="8.7" fill="url(#pt)"/><circle cx="187.7" cy="1918.6" r="8.7" fill="url(#pt)"/><line x1="168.2" y1="1880.5" x2="1099.4" y2="1281.8" stroke="#ff0000" stroke-opacity="0.13" stroke-width="10.2"/><line x1="168.2" y1="1880.5" x2="1099.4" y2="1281.8" stroke="#ff0000" stroke-width="5.2"/></g><circle cx="203.2" cy="1217" r="8.7" fill="url(#pt)"/><line x1="168" y1="1263.2" x2="239" y2="1263.2" stroke="#ff0000" stroke-width="6.8" stroke-linecap="round"/><text x="258.3" y="1229.3" font-family='"Liberation Serif", "DejaVu Serif", serif' font-size="37" font-weight="bold" font-style="normal" fill="#000" textLength="175.7" lengthAdjust="spacingAndGlyphs" >Data point</text><text x="250.2" y="1275.0" font-family='"Liberation Serif", "DejaVu Serif", serif' font-size="37" font-weight="bold" font-style="normal" fill="#000" textLength="209.3" lengthAdjust="spacingAndGlyphs" >Fitting point</text><text x="188.0" y="1321.6" font-family='"Liberation Serif", "DejaVu Serif", serif' font-size="37" font-weight="bold" font-style="normal" fill="#000" textLength="221.3" lengthAdjust="spacingAndGlyphs" >y=0.90x+1.74</text><text x="188.7" y="1368.0" font-family='"Liberation Serif", "DejaVu Serif", serif' font-size="37" font-weight="bold" font-style="normal" fill="#000" textLength="117.5" lengthAdjust="spacingAndGlyphs" >R=0.95</text><text x="119.1" y="1902.2" font-family='"Liberation Serif", "DejaVu Serif", serif' font-size="37.5" font-weight="bold" font-style="normal" fill="#000" textLength="19.4" lengthAdjust="spacingAndGlyphs" >0</text><text x="99.7" y="1824.2" font-family='"Liberation Serif", "DejaVu Serif", serif' font-size="37.5" font-weight="bold" font-style="normal" fill="#000" textLength="38.8" lengthAdjust="spacingAndGlyphs" >10</text><text x="99.7" y="1746.2" font-family='"Liberation Serif", "DejaVu Serif", serif' font-size="37.5" font-weight="bold" font-style="normal" fill="#000" textLength="38.8" lengthAdjust="spacingAndGlyphs" >20</text><text x="99.7" y="1668.2" font-family='"Liberation Serif", "DejaVu Serif", serif' font-size="37.5" font-weight="bold" font-style="normal" fill="#000" textLength="38.8" lengthAdjust="spacingAndGlyphs" >30</text><text x="99.7" y="1590.2" font-family='"Liberation Serif", "DejaVu Serif", serif' font-size="37.5" font-weight="bold" font-style="normal" fill="#000" textLength="38.8" lengthAdjust="spacingAndGlyphs" >40</text><text x="99.7" y="1512.2" font-family='"Liberation Serif", "DejaVu Serif", serif' font-size="37.5" font-weight="bold" font-style="normal" fill="#000" textLength="38.8" lengthAdjust="spacingAndGlyphs" >50</text><text x="99.7" y="1434.2" font-family='"Liberation Serif", "DejaVu Serif", serif' font-size="37.5" font-weight="bold" font-style="normal" fill="#000" textLength="38.8" lengthAdjust="spacingAndGlyphs" >60</text><text x="99.7" y="1356.2" font-family='"Liberation Serif", "DejaVu Serif", serif' font-size="37.5" font-weight="bold" font-style="normal" fill="#000" textLength="38.8" lengthAdjust="spacingAndGlyphs" >70</text><text x="99.7" y="1278.2" font-family='"Liberation Serif", "DejaVu Serif", serif' font-size="37.5" font-weight="bold" font-style="normal" fill="#000" textLength="38.8" lengthAdjust="spacingAndGlyphs" >80</text><text x="99.7" y="1200.2" font-family='"Liberation Serif", "DejaVu Serif", serif' font-size="37.5" font-weight="bold" font-style="normal" fill="#000" textLength="38.8" lengthAdjust="spacingAndGlyphs" >90</text><text x="167.6" y="1982.4" font-family='"Liberation Serif", "DejaVu Serif", serif' font-size="37.5" font-weight="bold" font-style="normal" fill="#000" textLength="20.2" lengthAdjust="spacingAndGlyphs" >0</text><text x="264.0" y="1982.4" font-family='"Liberation Serif", "DejaVu Serif", serif' font-size="37.5" font-weight="bold" font-style="normal" fill="#000" textLength="40.4" lengthAdjust="spacingAndGlyphs" >10</text><text x="370.5" y="1982.4" font-family='"Liberation Serif", "DejaVu Serif", serif' font-size="37.5" font-weight="bold" font-style="normal" fill="#000" textLength="40.4" lengthAdjust="spacingAndGlyphs" >20</text><text x="477.0" y="1982.4" font-family='"Liberation Serif", "DejaVu Serif", serif' font-size="37.5" font-weight="bold" font-style="normal" fill="#000" textLength="40.4" lengthAdjust="spacingAndGlyphs" >30</text><text x="583.5" y="1982.4" font-family='"Liberation Serif", "DejaVu Serif", serif' font-size="37.5" font-weight="bold" font-style="normal" fill="#000" textLength="40.4" lengthAdjust="spacingAndGlyphs" >40</text><text x="690.0" y="1982.4" font-family='"Liberation Serif", "DejaVu Serif", serif' font-size="37.5" font-weight="bold" font-style="normal" fill="#000" textLength="40.4" lengthAdjust="spacingAndGlyphs" >50</text><text x="796.5" y="1982.4" font-family='"Liberation Serif", "DejaVu Serif", serif' font-size="37.5" font-weight="bold" font-style="normal" fill="#000" textLength="40.4" lengthAdjust="spacingAndGlyphs" >60</text><text x="903.0" y="1982.4" font-family='"Liberation Serif", "DejaVu Serif", serif' font-size="37.5" font-weight="bold" font-style="normal" fill="#000" textLength="40.4" lengthAdjust="spacingAndGlyphs" >70</text><text x="1009.5" y="1982.4" font-family='"Liberation Serif", "DejaVu Serif", serif' font-size="37.5" font-weight="bold" font-style="normal" fill="#000" textLength="40.4" lengthAdjust="spacingAndGlyphs" >80</text><text x="1116.0" y="1982.4" font-family='"Liberation Serif", "DejaVu Serif", serif' font-size="37.5" font-weight="bold" font-style="normal" fill="#000" textLength="40.4" lengthAdjust="spacingAndGlyphs" >90</text><text x="469.7" y="2043.9" font-family='"Liberation Serif", "DejaVu Serif", serif' font-size="39" font-weight="bold" font-style="normal" fill="#000" textLength="353.3" lengthAdjust="spacingAndGlyphs" >Measured Value/kPa</text><g transform="translate(53.0,1725.6) rotate(-90)"><text x="0.0" y="0.0" font-family='"Liberation Serif", "DejaVu Serif", serif' font-size="39" font-weight="bold" font-style="normal" fill="#000" textLength="326.1" lengthAdjust="spacingAndGlyphs" >Predictive value/kPa</text></g></g><text x="8.2" y="1152.6" font-family='"Liberation Sans", "DejaVu Sans", sans-serif' font-size="49.5" font-weight="bold" fill="#000">C</text><text x="496.0" y="2157.8" font-family='"Liberation Serif", "DejaVu Serif", serif' font-size="59" font-weight="normal" font-style="normal" fill="#000" textLength="282.4" lengthAdjust="spacingAndGlyphs" >PSO-BPNN</text></g>
<g id="panel-D"><clipPath id="clipD"><rect x="1499.9" y="1188.8" width="988.2" height="756.0"/></clipPath><g filter="url(#soft)"><g clip-path="url(#clipD)"><polygon points="1537.4,1871.5 2298.1,1305.4 2298.1,1369.4 1537.4,1935.5" fill="#ffe4e4"/></g><rect x="1502.5" y="1191.4" width="983.0" height="750.8" fill="none" stroke="#000" stroke-width="5.2"/><path d="M1540.6 1942.2V1928.2M1640.0 1942.2V1928.2M1739.4 1942.2V1928.2M1838.8 1942.2V1928.2M1938.2 1942.2V1928.2M2037.6 1942.2V1928.2M2137.0 1942.2V1928.2M2236.4 1942.2V1928.2M2335.8 1942.2V1928.2M2435.2 1942.2V1928.2M1590.3 1942.2V1935.2M1689.7 1942.2V1935.2M1789.1 1942.2V1935.2M1888.5 1942.2V1935.2M1987.9 1942.2V1935.2M2087.3 1942.2V1935.2M2186.7 1942.2V1935.2M2286.1 1942.2V1935.2M2385.5 1942.2V1935.2" stroke="#000" stroke-width="4.2" fill="none"/><g clip-path="url(#clipD)"><circle cx="2287.1" cy="1411.3" r="8.7" fill="url(#pt)"/><circle cx="2291.2" cy="1445.3" r="8.7" fill="url(#pt)"/><circle cx="2018.2" cy="1534.0" r="8.7" fill="url(#pt)"/><circle cx="1965.9" cy="1561.0" r="8.7" fill="url(#pt)"/><circle cx="1984.8" cy="1547.4" r="8.7" fill="url(#pt)"/><circle cx="1956.9" cy="1564.5" r="8.7" fill="url(#pt)"/><circle cx="1939.7" cy="1582.3" r="8.7" fill="url(#pt)"/><circle cx="1942.5" cy="1577.5" r="8.7" fill="url(#pt)"/><circle cx="1928.8" cy="1592.5" r="8.7" fill="url(#pt)"/><circle cx="1947.1" cy="1567.9" r="8.7" fill="url(#pt)"/><circle cx="1936.8" cy="1570.8" r="8.7" fill="url(#pt)"/><circle cx="1940.5" cy="1590.6" r="8.7" fill="url(#pt)"/><circle cx="1931.0" cy="1602.1" r="8.7" fill="url(#pt)"/><circle cx="1922.9" cy="1611.5" r="8.7" fill="url(#pt)"/><circle cx="1927.3" cy="1583.6" r="8.7" fill="url(#pt)"/><circle cx="1908.7" cy="1600.8" r="8.7" fill="url(#pt)"/><circle cx="1920.2" cy="1604.5" r="8.7" fill="url(#pt)"/><circle cx="1918.8" cy="1592.2" r="8.7" fill="url(#pt)"/><circle cx="1912.2" cy="1625.0" r="8.7" fill="url(#pt)"/><circle cx="1906.0" cy="1611.0" r="8.7" fill="url(#pt)"/><circle cx="1900.4" cy="1619.8" r="8.7" fill="url(#pt)"/><circle cx="1904.2" cy="1633.1" r="8.7" fill="url(#pt)"/><circle cx="1909.0" cy="1608.8" r="8.7" fill="url(#pt)"/><circle cx="1910.8" cy="1616.9" r="8.7" fill="url(#pt)"/><circle cx="1903.3" cy="1628.1" r="8.7" fill="url(#pt)"/><circle cx="1896.0" cy="1637.4" r="8.7" fill="url(#pt)"/><circle cx="1896.8" cy="1659.7" r="8.7" fill="url(#pt)"/><circle cx="1893.0" cy="1620.3" r="8.7" fill="url(#pt)"/><circle cx="1902.2" cy="1645.0" r="8.7" fill="url(#pt)"/><circle cx="1891.5" cy="1625.6" r="8.7" fill="url(#pt)"/><circle cx="1892.6" cy="1652.2" r="8.7" fill="url(#pt)"/><circle cx="1877.4" cy="1634.6" r="8.7" fill="url(#pt)"/><circle cx="1884.7" cy="1659.5" r="8.7" fill="url(#pt)"/><circle cx="1893.5" cy="1641.9" r="8.7" fill="url(#pt)"/><circle cx="1875.9" cy="1653.8" r="8.7" fill="url(#pt)"/><circle cx="1887.1" cy="1636.7" r="8.7" fill="url(#pt)"/><circle cx="1865.5" cy="1643.0" r="8.7" fill="url(#pt)"/><circle cx="1854.5" cy="1645.4" r="8.7" fill="url(#pt)"/><circle cx="1884.1" cy="1654.1" r="8.7" fill="url(#pt)"/><circle cx="1874.8" cy="1675.8" r="8.7" fill="url(#pt)"/><circle cx="1885.4" cy="1641.6" r="8.7" fill="url(#pt)"/><circle cx="1884.6" cy="1670.2" r="8.7" fill="url(#pt)"/><circle cx="1868.6" cy="1663.3" r="8.7" fill="url(#pt)"/><circle cx="1860.4" cy="1659.8" r="8.7" fill="url(#pt)"/><circle cx="1857.4" cy="1634.6" r="8.7" fill="url(#pt)"/><circle cx="1892.2" cy="1663.0" r="8.7" fill="url(#pt)"/><circle cx="1863.1" cy="1667.1" r="8.7" fill="url(#pt)"/><circle cx="1877.7" cy="1643.2" r="8.7" fill="url(#pt)"/><circle cx="1869.4" cy="1636.4" r="8.7" fill="url(#pt)"/><circle cx="1840.7" cy="1640.3" r="8.7" fill="url(#pt)"/><circle cx="1865.0" cy="1688.8" r="8.7" fill="url(#pt)"/><circle cx="1849.9" cy="1639.0" r="8.7" fill="url(#pt)"/><circle cx="1865.7" cy="1653.8" r="8.7" fill="url(#pt)"/><circle cx="1870.6" cy="1683.0" r="8.7" fill="url(#pt)"/><circle cx="1880.0" cy="1659.5" r="8.7" fill="url(#pt)"/><circle cx="1857.7" cy="1679.8" r="8.7" fill="url(#pt)"/><circle cx="1875.8" cy="1672.5" r="8.7" fill="url(#pt)"/><circle cx="1856.4" cy="1642.8" r="8.7" fill="url(#pt)"/><circle cx="1867.3" cy="1673.7" r="8.7" fill="url(#pt)"/><circle cx="1835.6" cy="1641.3" r="8.7" fill="url(#pt)"/><circle cx="1835.4" cy="1636.4" r="8.7" fill="url(#pt)"/><circle cx="1862.8" cy="1686.7" r="8.7" fill="url(#pt)"/><circle cx="1841.0" cy="1659.6" r="8.7" fill="url(#pt)"/><circle cx="1866.3" cy="1699.2" r="8.7" fill="url(#pt)"/><circle cx="1874.7" cy="1688.0" r="8.7" fill="url(#pt)"/><circle cx="1826.9" cy="1648.8" r="8.7" fill="url(#pt)"/><circle cx="1825.1" cy="1658.6" r="8.7" fill="url(#pt)"/><circle cx="1858.4" cy="1654.9" r="8.7" fill="url(#pt)"/><circle cx="1816.6" cy="1646.0" r="8.7" fill="url(#pt)"/><circle cx="1826.9" cy="1624.3" r="8.7" fill="url(#pt)"/><circle cx="1848.3" cy="1666.3" r="8.7" fill="url(#pt)"/><circle cx="1817.3" cy="1653.5" r="8.7" fill="url(#pt)"/><circle cx="1849.3" cy="1657.4" r="8.7" fill="url(#pt)"/><circle cx="1832.4" cy="1649.8" r="8.7" fill="url(#pt)"/><circle cx="1862.5" cy="1703.0" r="8.7" fill="url(#pt)"/><circle cx="1835.9" cy="1658.2" r="8.7" fill="url(#pt)"/><circle cx="1826.1" cy="1641.0" r="8.7" fill="url(#pt)"/><circle cx="1840.1" cy="1680.5" r="8.7" fill="url(#pt)"/><circle cx="1839.2" cy="1647.5" r="8.7" fill="url(#pt)"/><circle cx="1840.4" cy="1693.7" r="8.7" fill="url(#pt)"/><circle cx="1836.9" cy="1681.0" r="8.7" fill="url(#pt)"/><circle cx="1863.0" cy="1691.5" r="8.7" fill="url(#pt)"/><circle cx="1824.3" cy="1671.9" r="8.7" fill="url(#pt)"/><circle cx="1843.6" cy="1701.9" r="8.7" fill="url(#pt)"/><circle cx="1849.6" cy="1672.2" r="8.7" fill="url(#pt)"/><circle cx="1839.9" cy="1667.2" r="8.7" fill="url(#pt)"/><circle cx="1834.7" cy="1700.9" r="8.7" fill="url(#pt)"/><circle cx="1806.7" cy="1659.1" r="8.7" fill="url(#pt)"/><circle cx="1852.2" cy="1682.3" r="8.7" fill="url(#pt)"/><circle cx="1810.6" cy="1649.0" r="8.7" fill="url(#pt)"/><circle cx="1826.0" cy="1694.4" r="8.7" fill="url(#pt)"/><circle cx="1833.4" cy="1663.6" r="8.7" fill="url(#pt)"/><circle cx="1848.1" cy="1690.1" r="8.7" fill="url(#pt)"/><circle cx="1823.8" cy="1687.3" r="8.7" fill="url(#pt)"/><circle cx="1814.6" cy="1661.5" r="8.7" fill="url(#pt)"/><circle cx="1842.4" cy="1707.2" r="8.7" fill="url(#pt)"/><circle cx="1839.6" cy="1677.0" r="8.7" fill="url(#pt)"/><circle cx="1832.6" cy="1707.7" r="8.7" fill="url(#pt)"/><circle cx="1848.8" cy="1697.6" r="8.7" fill="url(#pt)"/><circle cx="1847.7" cy="1705.3" r="8.7" fill="url(#pt)"/><circle cx="1835.6" cy="1690.1" r="8.7" fill="url(#pt)"/><circle cx="1820.0" cy="1692.8" r="8.7" fill="url(#pt)"/><circle cx="1810.8" cy="1684.3" r="8.7" fill="url(#pt)"/><circle cx="1819.1" cy="1709.4" r="8.7" fill="url(#pt)"/><circle cx="1802.4" cy="1672.5" r="8.7" fill="url(#pt)"/><circle cx="1830.5" cy="1676.0" r="8.7" fill="url(#pt)"/><circle cx="1827.0" cy="1680.6" r="8.7" fill="url(#pt)"/><circle cx="1818.6" cy="1675.2" r="8.7" fill="url(#pt)"/><circle cx="1818.0" cy="1679.8" r="8.7" fill="url(#pt)"/><circle cx="1791.8" cy="1645.6" r="8.7" fill="url(#pt)"/><circle cx="1801.8" cy="1687.6" r="8.7" fill="url(#pt)"/><circle cx="1824.6" cy="1707.5" r="8.7" fill="url(#pt)"/><circle cx="1802.9" cy="1662.7" r="8.7" fill="url(#pt)"/><circle cx="1808.9" cy="1664.4" r="8.7" fill="url(#pt)"/><circle cx="1797.2" cy="1653.9" r="8.7" fill="url(#pt)"/><circle cx="1810.4" cy="1675.9" r="8.7" fill="url(#pt)"/><circle cx="1802.3" cy="1703.1" r="8.7" fill="url(#pt)"/><circle cx="1818.4" cy="1719.9" r="8.7" fill="url(#pt)"/><circle cx="1779.7" cy="1663.8" r="8.7" fill="url(#pt)"/><circle cx="1800.5" cy="1714.9" r="8.7" fill="url(#pt)"/><circle cx="1783.3" cy="1683.9" r="8.7" fill="url(#pt)"/><circle cx="1793.5" cy="1658.8" r="8.7" fill="url(#pt)"/><circle cx="1816.7" cy="1697.2" r="8.7" fill="url(#pt)"/><circle cx="1798.6" cy="1680.5" r="8.7" fill="url(#pt)"/><circle cx="1811.5" cy="1706.5" r="8.7" fill="url(#pt)"/><circle cx="1805.1" cy="1716.3" r="8.7" fill="url(#pt)"/><circle cx="1809.2" cy="1691.6" r="8.7" fill="url(#pt)"/><circle cx="1790.1" cy="1668.8" r="8.7" fill="url(#pt)"/><circle cx="1808.8" cy="1699.1" r="8.7" fill="url(#pt)"/><circle cx="1784.9" cy="1693.1" r="8.7" fill="url(#pt)"/><circle cx="1796.7" cy="1696.3" r="8.7" fill="url(#pt)"/><circle cx="1773.8" cy="1701.7" r="8.7" fill="url(#pt)"/><circle cx="1787.5" cy="1703.5" r="8.7" fill="url(#pt)"/><circle cx="1782.7" cy="1702.3" r="8.7" fill="url(#pt)"/><circle cx="1793.4" cy="1675.1" r="8.7" fill="url(#pt)"/><circle cx="1761.6" cy="1693.3" r="8.7" fill="url(#pt)"/><circle cx="1788.4" cy="1707.3" r="8.7" fill="url(#pt)"/><circle cx="1790.1" cy="1683.9" r="8.7" fill="url(#pt)"/><circle cx="1787.5" cy="1694.7" r="8.7" fill="url(#pt)"/><circle cx="1801.5" cy="1742.9" r="8.7" fill="url(#pt)"/><circle cx="1793.3" cy="1719.3" r="8.7" fill="url(#pt)"/><circle cx="1800.1" cy="1718.6" r="8.7" fill="url(#pt)"/><circle cx="1782.3" cy="1717.8" r="8.7" fill="url(#pt)"/><circle cx="1783.8" cy="1710.8" r="8.7" fill="url(#pt)"/><circle cx="1800.4" cy="1729.1" r="8.7" fill="url(#pt)"/><circle cx="1767.8" cy="1715.0" r="8.7" fill="url(#pt)"/><circle cx="1789.0" cy="1726.1" r="8.7" fill="url(#pt)"/><circle cx="1784.7" cy="1729.0" r="8.7" fill="url(#pt)"/><circle cx="1770.8" cy="1709.5" r="8.7" fill="url(#pt)"/><circle cx="1790.7" cy="1734.7" r="8.7" fill="url(#pt)"/><circle cx="1775.1" cy="1750.6" r="8.7" fill="url(#pt)"/><circle cx="1762.6" cy="1721.6" r="8.7" fill="url(#pt)"/><circle cx="1766.3" cy="1749.6" r="8.7" fill="url(#pt)"/><circle cx="1770.6" cy="1733.8" r="8.7" fill="url(#pt)"/><circle cx="1772.4" cy="1719.4" r="8.7" fill="url(#pt)"/><circle cx="1780.9" cy="1756.2" r="8.7" fill="url(#pt)"/><circle cx="1793.0" cy="1756.2" r="8.7" fill="url(#pt)"/><circle cx="1763.6" cy="1734.3" r="8.7" fill="url(#pt)"/><circle cx="1759.9" cy="1740.9" r="8.7" fill="url(#pt)"/><circle cx="1757.2" cy="1746.6" r="8.7" fill="url(#pt)"/><circle cx="1757.3" cy="1719.3" r="8.7" fill="url(#pt)"/><circle cx="1779.2" cy="1737.4" r="8.7" fill="url(#pt)"/><circle cx="1772.2" cy="1742.7" r="8.7" fill="url(#pt)"/><circle cx="1738.1" cy="1719.4" r="8.7" fill="url(#pt)"/><circle cx="1749.2" cy="1766.2" r="8.7" fill="url(#pt)"/><circle cx="1747.2" cy="1746.9" r="8.7" fill="url(#pt)"/><circle cx="1753.4" cy="1732.0" r="8.7" fill="url(#pt)"/><circle cx="1762.7" cy="1742.2" r="8.7" fill="url(#pt)"/><circle cx="1747.1" cy="1733.4" r="8.7" fill="url(#pt)"/><circle cx="1753.6" cy="1755.4" r="8.7" fill="url(#pt)"/><circle cx="1768.3" cy="1757.5" r="8.7" fill="url(#pt)"/><circle cx="1745.6" cy="1757.8" r="8.7" fill="url(#pt)"/><circle cx="1742.0" cy="1752.0" r="8.7" fill="url(#pt)"/><circle cx="1750.1" cy="1740.4" r="8.7" fill="url(#pt)"/><circle cx="1754.5" cy="1767.1" r="8.7" fill="url(#pt)"/><circle cx="1714.3" cy="1750.6" r="8.7" fill="url(#pt)"/><circle cx="1747.1" cy="1807.0" r="8.7" fill="url(#pt)"/><circle cx="1737.9" cy="1759.1" r="8.7" fill="url(#pt)"/><circle cx="1742.7" cy="1780.3" r="8.7" fill="url(#pt)"/><circle cx="1674.0" cy="1693.8" r="8.7" fill="url(#pt)"/><circle cx="1723.9" cy="1783.1" r="8.7" fill="url(#pt)"/><circle cx="1722.6" cy="1764.9" r="8.7" fill="url(#pt)"/><circle cx="1724.2" cy="1750.3" r="8.7" fill="url(#pt)"/><circle cx="1746.9" cy="1774.8" r="8.7" fill="url(#pt)"/><circle cx="1731.9" cy="1755.7" r="8.7" fill="url(#pt)"/><circle cx="1706.0" cy="1768.2" r="8.7" fill="url(#pt)"/><circle cx="1738.0" cy="1770.6" r="8.7" fill="url(#pt)"/><circle cx="1695.2" cy="1763.0" r="8.7" fill="url(#pt)"/><circle cx="1712.8" cy="1763.2" r="8.7" fill="url(#pt)"/><circle cx="1725.2" cy="1755.3" r="8.7" fill="url(#pt)"/><circle cx="1706.7" cy="1760.7" r="8.7" fill="url(#pt)"/><circle cx="1726.0" cy="1811.8" r="8.7" fill="url(#pt)"/><circle cx="1731.5" cy="1766.3" r="8.7" fill="url(#pt)"/><circle cx="1730.0" cy="1783.8" r="8.7" fill="url(#pt)"/><circle cx="1729.3" cy="1776.4" r="8.7" fill="url(#pt)"/><circle cx="1707.7" cy="1795.9" r="8.7" fill="url(#pt)"/><circle cx="1707.0" cy="1786.0" r="8.7" fill="url(#pt)"/><circle cx="1674.0" cy="1681.2" r="8.7" fill="url(#pt)"/><circle cx="1716.6" cy="1797.7" r="8.7" fill="url(#pt)"/><circle cx="1704.4" cy="1751.6" r="8.7" fill="url(#pt)"/><circle cx="1699.6" cy="1770.3" r="8.7" fill="url(#pt)"/><circle cx="1722.6" cy="1775.1" r="8.7" fill="url(#pt)"/><circle cx="1701.9" cy="1777.0" r="8.7" fill="url(#pt)"/><circle cx="1711.2" cy="1770.7" r="8.7" fill="url(#pt)"/><circle cx="1712.2" cy="1777.7" r="8.7" fill="url(#pt)"/><circle cx="1694.5" cy="1754.5" r="8.7" fill="url(#pt)"/><circle cx="1705.4" cy="1805.0" r="8.7" fill="url(#pt)"/><circle cx="1719.4" cy="1788.6" r="8.7" fill="url(#pt)"/><circle cx="1687.6" cy="1770.7" r="8.7" fill="url(#pt)"/><circle cx="1681.0" cy="1787.9" r="8.7" fill="url(#pt)"/><circle cx="1705.9" cy="1811.8" r="8.7" fill="url(#pt)"/><circle cx="1710.1" cy="1785.1" r="8.7" fill="url(#pt)"/><circle cx="1697.5" cy="1778.2" r="8.7" fill="url(#pt)"/><circle cx="1694.9" cy="1787.9" r="8.7" fill="url(#pt)"/><circle cx="1696.0" cy="1795.9" r="8.7" fill="url(#pt)"/><circle cx="1678.6" cy="1784.2" r="8.7" fill="url(#pt)"/><circle cx="1689.1" cy="1786.3" r="8.7" fill="url(#pt)"/><circle cx="1698.3" cy="1810.0" r="8.7" fill="url(#pt)"/><circle cx="1672.7" cy="1784.6" r="8.7" fill="url(#pt)"/><circle cx="1664.6" cy="1782.8" r="8.7" fill="url(#pt)"/><circle cx="1687.6" cy="1807.8" r="8.7" fill="url(#pt)"/><circle cx="1687.9" cy="1782.6" r="8.7" fill="url(#pt)"/><circle cx="1677.7" cy="1808.4" r="8.7" fill="url(#pt)"/><circle cx="1685.4" cy="1761.8" r="8.7" fill="url(#pt)"/><circle cx="1681.7" cy="1774.2" r="8.7" fill="url(#pt)"/><circle cx="1678.5" cy="1816.3" r="8.7" fill="url(#pt)"/><circle cx="1687.5" cy="1814.2" r="8.7" fill="url(#pt)"/><circle cx="1670.8" cy="1794.7" r="8.7" fill="url(#pt)"/><circle cx="1676.7" cy="1823.7" r="8.7" fill="url(#pt)"/><circle cx="1658.5" cy="1797.5" r="8.7" fill="url(#pt)"/><circle cx="1667.0" cy="1779.4" r="8.7" fill="url(#pt)"/><circle cx="1662.5" cy="1809.1" r="8.7" fill="url(#pt)"/><circle cx="1694.9" cy="1803.7" r="8.7" fill="url(#pt)"/><circle cx="1673.7" cy="1818.4" r="8.7" fill="url(#pt)"/><circle cx="1681.7" cy="1796.7" r="8.7" fill="url(#pt)"/><circle cx="1686.3" cy="1798.1" r="8.7" fill="url(#pt)"/><circle cx="1655.0" cy="1787.6" r="8.7" fill="url(#pt)"/><circle cx="1668.6" cy="1812.2" r="8.7" fill="url(#pt)"/><circle cx="1656.2" cy="1800.2" r="8.7" fill="url(#pt)"/><circle cx="1659.3" cy="1826.5" r="8.7" fill="url(#pt)"/><circle cx="1647.8" cy="1797.5" r="8.7" fill="url(#pt)"/><circle cx="1643.0" cy="1792.7" r="8.7" fill="url(#pt)"/><circle cx="1667.7" cy="1829.5" r="8.7" fill="url(#pt)"/><circle cx="1672.5" cy="1802.7" r="8.7" fill="url(#pt)"/><circle cx="1651.3" cy="1791.9" r="8.7" fill="url(#pt)"/><circle cx="1647.9" cy="1810.9" r="8.7" fill="url(#pt)"/><circle cx="1661.6" cy="1791.3" r="8.7" fill="url(#pt)"/><circle cx="1655.9" cy="1828.1" r="8.7" fill="url(#pt)"/><circle cx="1645.8" cy="1814.2" r="8.7" fill="url(#pt)"/><circle cx="1654.4" cy="1844.0" r="8.7" fill="url(#pt)"/><circle cx="1647.4" cy="1823.1" r="8.7" fill="url(#pt)"/><circle cx="1647.9" cy="1834.6" r="8.7" fill="url(#pt)"/><circle cx="1664.4" cy="1818.8" r="8.7" fill="url(#pt)"/><circle cx="1634.0" cy="1814.5" r="8.7" fill="url(#pt)"/><circle cx="1655.9" cy="1809.1" r="8.7" fill="url(#pt)"/><circle cx="1663.7" cy="1836.4" r="8.7" fill="url(#pt)"/><circle cx="1636.0" cy="1803.3" r="8.7" fill="url(#pt)"/><circle cx="1655.4" cy="1821.1" r="8.7" fill="url(#pt)"/><circle cx="1625.6" cy="1810.2" r="8.7" fill="url(#pt)"/><circle cx="1645.6" cy="1850.7" r="8.7" fill="url(#pt)"/><circle cx="1624.9" cy="1824.5" r="8.7" fill="url(#pt)"/><circle cx="1655.9" cy="1834.5" r="8.7" fill="url(#pt)"/><circle cx="1641.6" cy="1840.2" r="8.7" fill="url(#pt)"/><circle cx="1612.2" cy="1813.9" r="8.7" fill="url(#pt)"/><circle cx="1630.4" cy="1835.4" r="8.7" fill="url(#pt)"/><circle cx="1634.9" cy="1829.4" r="8.7" fill="url(#pt)"/><circle cx="1622.3" cy="1826.9" r="8.7" fill="url(#pt)"/><circle cx="1620.8" cy="1818.1" r="8.7" fill="url(#pt)"/><circle cx="1625.6" cy="1821.1" r="8.7" fill="url(#pt)"/><circle cx="1637.1" cy="1853.2" r="8.7" fill="url(#pt)"/><circle cx="1638.8" cy="1822.9" r="8.7" fill="url(#pt)"/><circle cx="1638.1" cy="1837.4" r="8.7" fill="url(#pt)"/><circle cx="1608.8" cy="1820.5" r="8.7" fill="url(#pt)"/><circle cx="1617.0" cy="1834.9" r="8.7" fill="url(#pt)"/><circle cx="1608.2" cy="1837.2" r="8.7" fill="url(#pt)"/><circle cx="1630.9" cy="1842.4" r="8.7" fill="url(#pt)"/><circle cx="1616.2" cy="1810.3" r="8.7" fill="url(#pt)"/><circle cx="1602.5" cy="1835.6" r="8.7" fill="url(#pt)"/><circle cx="1630.3" cy="1851.8" r="8.7" fill="url(#pt)"/><circle cx="1611.5" cy="1854.7" r="8.7" fill="url(#pt)"/><circle cx="1615.6" cy="1843.4" r="8.7" fill="url(#pt)"/><circle cx="1638.3" cy="1844.8" r="8.7" fill="url(#pt)"/><circle cx="1613.6" cy="1830.8" r="8.7" fill="url(#pt)"/><circle cx="1629.5" cy="1859.6" r="8.7" fill="url(#pt)"/><circle cx="1601.3" cy="1848.8" r="8.7" fill="url(#pt)"/><circle cx="1590.8" cy="1836.9" r="8.7" fill="url(#pt)"/><circle cx="1621.2" cy="1860.6" r="8.7" fill="url(#pt)"/><circle cx="1600.8" cy="1861.8" r="8.7" fill="url(#pt)"/><circle cx="1600.2" cy="1840.6" r="8.7" fill="url(#pt)"/><circle cx="1601.0" cy="1826.6" r="8.7" fill="url(#pt)"/><circle cx="1608.5" cy="1875.0" r="8.7" fill="url(#pt)"/><circle cx="1617.1" cy="1854.4" r="8.7" fill="url(#pt)"/><circle cx="1607.1" cy="1846.3" r="8.7" fill="url(#pt)"/><circle cx="1615.6" cy="1868.3" r="8.7" fill="url(#pt)"/><circle cx="1587.3" cy="1859.4" r="8.7" fill="url(#pt)"/><circle cx="1583.2" cy="1852.7" r="8.7" fill="url(#pt)"/><circle cx="1580.1" cy="1798.5" r="8.7" fill="url(#pt)"/><circle cx="1598.5" cy="1875.2" r="8.7" fill="url(#pt)"/><circle cx="1578.0" cy="1848.3" r="8.7" fill="url(#pt)"/><circle cx="1589.8" cy="1847.1" r="8.7" fill="url(#pt)"/><circle cx="1595.8" cy="1857.5" r="8.7" fill="url(#pt)"/><circle cx="1600.5" cy="1865.0" r="8.7" fill="url(#pt)"/><circle cx="1607.0" cy="1865.1" r="8.7" fill="url(#pt)"/><circle cx="1594.7" cy="1866.4" r="8.7" fill="url(#pt)"/><circle cx="1581.4" cy="1869.4" r="8.7" fill="url(#pt)"/><circle cx="1589.7" cy="1871.6" r="8.7" fill="url(#pt)"/><circle cx="1570.1" cy="1868.6" r="8.7" fill="url(#pt)"/><circle cx="1596.3" cy="1882.5" r="8.7" fill="url(#pt)"/><circle cx="1579.3" cy="1880.2" r="8.7" fill="url(#pt)"/><circle cx="1583.4" cy="1843.8" r="8.7" fill="url(#pt)"/><circle cx="1586.3" cy="1880.9" r="8.7" fill="url(#pt)"/><circle cx="1567.3" cy="1886.4" r="8.7" fill="url(#pt)"/><circle cx="1582.6" cy="1889.1" r="8.7" fill="url(#pt)"/><circle cx="1561.3" cy="1873.6" r="8.7" fill="url(#pt)"/><circle cx="1569.9" cy="1879.5" r="8.7" fill="url(#pt)"/><circle cx="1572.7" cy="1858.3" r="8.7" fill="url(#pt)"/><circle cx="1558.7" cy="1891.3" r="8.7" fill="url(#pt)"/><circle cx="1575.6" cy="1873.0" r="8.7" fill="url(#pt)"/><circle cx="1567.6" cy="1858.3" r="8.7" fill="url(#pt)"/><circle cx="1574.3" cy="1865.9" r="8.7" fill="url(#pt)"/><circle cx="1547.8" cy="1874.1" r="8.7" fill="url(#pt)"/><circle cx="1567.9" cy="1895.9" r="8.7" fill="url(#pt)"/><circle cx="1559.4" cy="1885.5" r="8.7" fill="url(#pt)"/><circle cx="1575.2" cy="1888.4" r="8.7" fill="url(#pt)"/><circle cx="1560.3" cy="1868.4" r="8.7" fill="url(#pt)"/><circle cx="1552.3" cy="1896.2" r="8.7" fill="url(#pt)"/><circle cx="1576.8" cy="1897.5" r="8.7" fill="url(#pt)"/><circle cx="1544.4" cy="1903.4" r="8.7" fill="url(#pt)"/><circle cx="1558.5" cy="1899.3" r="8.7" fill="url(#pt)"/><circle cx="1548.0" cy="1887.2" r="8.7" fill="url(#pt)"/><circle cx="1538.4" cy="1893.1" r="8.7" fill="url(#pt)"/><circle cx="1542.7" cy="1873.5" r="8.7" fill="url(#pt)"/><circle cx="1539.6" cy="1876.2" r="8.7" fill="url(#pt)"/><circle cx="1540.7" cy="1883.6" r="8.7" fill="url(#pt)"/><circle cx="1564.9" cy="1905.1" r="8.7" fill="url(#pt)"/><circle cx="1552.1" cy="1902.4" r="8.7" fill="url(#pt)"/><circle cx="1561.7" cy="1911.2" r="8.7" fill="url(#pt)"/><circle cx="1543.3" cy="1908.3" r="8.7" fill="url(#pt)"/><circle cx="1548.7" cy="1914.1" r="8.7" fill="url(#pt)"/><circle cx="1540.2" cy="1918.2" r="8.7" fill="url(#pt)"/><circle cx="1541.7" cy="1917.4" r="8.7" fill="url(#pt)"/><line x1="1537.4" y1="1903.5" x2="2298.1" y2="1337.4" stroke="#ff0000" stroke-opacity="0.13" stroke-width="10.2"/><line x1="1537.4" y1="1903.5" x2="2298.1" y2="1337.4" stroke="#ff0000" stroke-width="5.2"/></g><circle cx="1548.2" cy="1214.7" r="8.7" fill="url(#pt)"/><line x1="1509" y1="1257.7" x2="1588.2" y2="1257.7" stroke="#ff0000" stroke-width="6.2" stroke-linecap="butt"/><text x="1604.2" y="1226.6" font-family='"Liberation Serif", "DejaVu Serif", serif' font-size="36" font-weight="bold" font-style="normal" fill="#000" textLength="167.5" lengthAdjust="spacingAndGlyphs" >Data point</text><text x="1596.0" y="1270.2" font-family='"Liberation Serif", "DejaVu Serif", serif' font-size="36" font-weight="bold" font-style="normal" fill="#000" textLength="172.8" lengthAdjust="spacingAndGlyphs" >Fitting line</text><text x="1530.8" y="1314.3" font-family='"Liberation Serif", "DejaVu Serif", serif' font-size="36" font-weight="bold" font-style="normal" fill="#000" textLength="209.0" lengthAdjust="spacingAndGlyphs" >y=0.93x+1.38</text><text x="1531.6" y="1358.4" font-family='"Liberation Serif", "DejaVu Serif", serif' font-size="36" font-weight="bold" font-style="normal" fill="#000" textLength="111.5" lengthAdjust="spacingAndGlyphs" >R=0.98</text><text x="1462.1" y="1915.5" font-family='"Liberation Serif", "DejaVu Serif", serif' font-size="38.5" font-weight="bold" font-style="normal" fill="#000" textLength="21.4" lengthAdjust="spacingAndGlyphs" >0</text><text x="1440.7" y="1835.8" font-family='"Liberation Serif", "DejaVu Serif", serif' font-size="38.5" font-weight="bold" font-style="normal" fill="#000" textLength="42.8" lengthAdjust="spacingAndGlyphs" >10</text><text x="1440.7" y="1756.1" font-family='"Liberation Serif", "DejaVu Serif", serif' font-size="38.5" font-weight="bold" font-style="normal" fill="#000" textLength="42.8" lengthAdjust="spacingAndGlyphs" >20</text><text x="1440.7" y="1676.4" font-family='"Liberation Serif", "DejaVu Serif", serif' font-size="38.5" font-weight="bold" font-style="normal" fill="#000" textLength="42.8" lengthAdjust="spacingAndGlyphs" >30</text><text x="1440.7" y="1596.7" font-family='"Liberation Serif", "DejaVu Serif", serif' font-size="38.5" font-weight="bold" font-style="normal" fill="#000" textLength="42.8" lengthAdjust="spacingAndGlyphs" >40</text><text x="1440.7" y="1517.0" font-family='"Liberation Serif", "DejaVu Serif", serif' font-size="38.5" font-weight="bold" font-style="normal" fill="#000" textLength="42.8" lengthAdjust="spacingAndGlyphs" >50</text><text x="1440.7" y="1437.3" font-family='"Liberation Serif", "DejaVu Serif", serif' font-size="38.5" font-weight="bold" font-style="normal" fill="#000" textLength="42.8" lengthAdjust="spacingAndGlyphs" >60</text><text x="1440.7" y="1357.6" font-family='"Liberation Serif", "DejaVu Serif", serif' font-size="38.5" font-weight="bold" font-style="normal" fill="#000" textLength="42.8" lengthAdjust="spacingAndGlyphs" >70</text><text x="1440.7" y="1277.9" font-family='"Liberation Serif", "DejaVu Serif", serif' font-size="38.5" font-weight="bold" font-style="normal" fill="#000" textLength="42.8" lengthAdjust="spacingAndGlyphs" >80</text><text x="1440.7" y="1198.2" font-family='"Liberation Serif", "DejaVu Serif", serif' font-size="38.5" font-weight="bold" font-style="normal" fill="#000" textLength="42.8" lengthAdjust="spacingAndGlyphs" >90</text><text x="1529.7" y="1990.2" font-family='"Liberation Serif", "DejaVu Serif", serif' font-size="38.5" font-weight="bold" font-style="normal" fill="#000" textLength="21.8" lengthAdjust="spacingAndGlyphs" >0</text><text x="1618.2" y="1990.2" font-family='"Liberation Serif", "DejaVu Serif", serif' font-size="38.5" font-weight="bold" font-style="normal" fill="#000" textLength="43.6" lengthAdjust="spacingAndGlyphs" >10</text><text x="1717.6" y="1990.2" font-family='"Liberation Serif", "DejaVu Serif", serif' font-size="38.5" font-weight="bold" font-style="normal" fill="#000" textLength="43.6" lengthAdjust="spacingAndGlyphs" >20</text><text x="1817.0" y="1990.2" font-family='"Liberation Serif", "DejaVu Serif", serif' font-size="38.5" font-weight="bold" font-style="normal" fill="#000" textLength="43.6" lengthAdjust="spacingAndGlyphs" >30</text><text x="1916.4" y="1990.2" font-family='"Liberation Serif", "DejaVu Serif", serif' font-size="38.5" font-weight="bold" font-style="normal" fill="#000" textLength="43.6" lengthAdjust="spacingAndGlyphs" >40</text><text x="2015.8" y="1990.2" font-family='"Liberation Serif", "DejaVu Serif", serif' font-size="38.5" font-weight="bold" font-style="normal" fill="#000" textLength="43.6" lengthAdjust="spacingAndGlyphs" >50</text><text x="2115.2" y="1990.2" font-family='"Liberation Serif", "DejaVu Serif", serif' font-size="38.5" font-weight="bold" font-style="normal" fill="#000" textLength="43.6" lengthAdjust="spacingAndGlyphs" >60</text><text x="2214.6" y="1990.2" font-family='"Liberation Serif", "DejaVu Serif", serif' font-size="38.5" font-weight="bold" font-style="normal" fill="#000" textLength="43.6" lengthAdjust="spacingAndGlyphs" >70</text><text x="2314.0" y="1990.2" font-family='"Liberation Serif", "DejaVu Serif", serif' font-size="38.5" font-weight="bold" font-style="normal" fill="#000" textLength="43.6" lengthAdjust="spacingAndGlyphs" >80</text><text x="2413.4" y="1990.2" font-family='"Liberation Serif", "DejaVu Serif", serif' font-size="38.5" font-weight="bold" font-style="normal" fill="#000" textLength="43.6" lengthAdjust="spacingAndGlyphs" >90</text><text x="1809.2" y="2054.6" font-family='"Liberation Serif", "DejaVu Serif", serif' font-size="40" font-weight="bold" font-style="normal" fill="#000" textLength="368.8" lengthAdjust="spacingAndGlyphs" >Measured Value/kPa</text><g transform="translate(1390.4,1744.2) rotate(-90)"><text x="0.0" y="0.0" font-family='"Liberation Serif", "DejaVu Serif", serif' font-size="40" font-weight="bold" font-style="normal" fill="#000" textLength="352.4" lengthAdjust="spacingAndGlyphs" >Predictive Value/kPa</text></g></g><text x="1351.5" y="1152.3" font-family='"Liberation Sans", "DejaVu Sans", sans-serif' font-size="49.5" font-weight="bold" fill="#000">D</text><text x="1912.0" y="2158.2" font-family='"Liberation Serif", "DejaVu Serif", serif' font-size="59" font-weight="normal" font-style="normal" fill="#000" textLength="123.6" lengthAdjust="spacingAndGlyphs" >CNN</text></g>
</svg>
</body></html>
